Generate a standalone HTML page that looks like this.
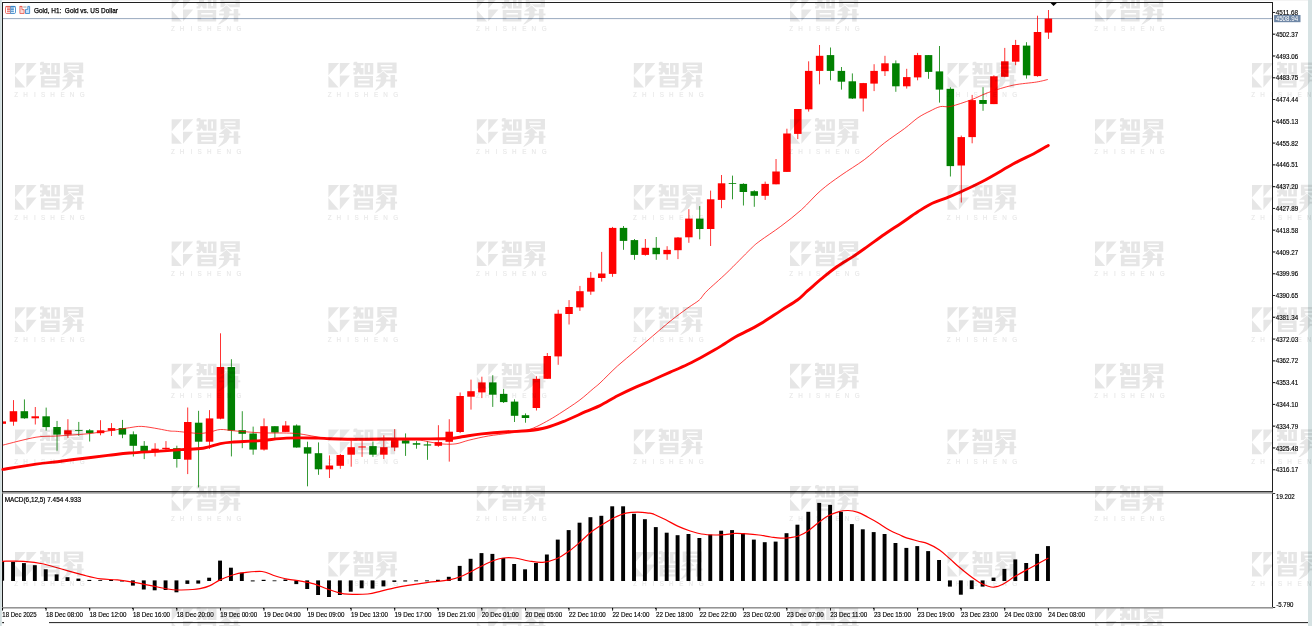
<!DOCTYPE html>
<html><head><meta charset="utf-8"><title>Gold, H1</title>
<style>html,body{margin:0;padding:0;background:#fff;}body{width:1312px;height:626px;overflow:hidden;}svg{display:block;position:absolute;left:0;top:0;will-change:transform;opacity:0.999;}text{font-family:"Liberation Sans",sans-serif;}</style>
</head><body>
<svg width="1312" height="626" viewBox="0 0 1312 626">
<rect x="0" y="0" width="1312" height="626" fill="#ffffff"/>
<rect x="0" y="0" width="1308" height="0.8" fill="#f0f0f0"/>
<rect x="0" y="0" width="1.8" height="626" fill="#d3dfe0"/>
<rect x="1308" y="0" width="4" height="626" fill="#d6e2e3"/>
<g stroke="#000" stroke-width="1" fill="none" shape-rendering="crispEdges">
</g>
<rect x="2.00" y="2.00" width="1271.00" height="1.00" fill="#202020" />
<rect x="2.00" y="2.00" width="1.00" height="608.00" fill="#202020" />
<rect x="1272.00" y="2.00" width="1.00" height="606.00" fill="#202020" />
<rect x="2.00" y="491.10" width="1271.00" height="1.10" fill="#202020" />
<rect x="2.00" y="492.20" width="1271.00" height="1.40" fill="#8f8f8f" />
<rect x="2.00" y="607.05" width="1271.00" height="1.50" fill="#8f8f8f" />
<rect x="49.00" y="622.10" width="1259.00" height="1.00" fill="#202020" />
<rect x="2.20" y="622.00" width="1.80" height="1.20" fill="#202020" />
<rect x="3.00" y="18.10" width="1269.00" height="1.00" fill="#9aaabf" />
<g id="candles">
<rect x="3.00" y="421.40" width="3.00" height="2.40" fill="#ff0000" />
<rect x="13.05" y="400.10" width="0.80" height="25.60" fill="#ff0000" />
<rect x="9.70" y="411.20" width="7.50" height="10.50" fill="#ff0000" />
<rect x="23.94" y="399.40" width="0.80" height="19.40" fill="#008000" />
<rect x="20.59" y="411.20" width="7.50" height="7.10" fill="#008000" />
<rect x="34.84" y="407.00" width="0.80" height="17.50" fill="#ff0000" />
<rect x="31.49" y="416.30" width="7.50" height="2.00" fill="#ff0000" />
<rect x="45.73" y="407.60" width="0.80" height="23.00" fill="#008000" />
<rect x="42.38" y="416.30" width="7.50" height="10.80" fill="#008000" />
<rect x="56.63" y="420.90" width="0.80" height="29.80" fill="#008000" />
<rect x="53.28" y="427.00" width="7.50" height="7.60" fill="#008000" />
<rect x="67.52" y="419.20" width="0.80" height="18.60" fill="#ff0000" />
<rect x="64.17" y="430.30" width="7.50" height="4.30" fill="#ff0000" />
<rect x="78.41" y="421.90" width="0.80" height="13.90" fill="#008000" />
<rect x="75.06" y="430.20" width="7.50" height="0.80" fill="#008000" />
<rect x="89.31" y="429.10" width="0.80" height="12.40" fill="#008000" />
<rect x="85.96" y="430.30" width="7.50" height="2.90" fill="#008000" />
<rect x="100.20" y="420.20" width="0.80" height="15.10" fill="#ff0000" />
<rect x="96.85" y="430.30" width="7.50" height="2.90" fill="#ff0000" />
<rect x="111.10" y="423.10" width="0.80" height="12.90" fill="#ff0000" />
<rect x="107.75" y="428.10" width="7.50" height="2.60" fill="#ff0000" />
<rect x="121.99" y="419.90" width="0.80" height="18.30" fill="#008000" />
<rect x="118.64" y="428.10" width="7.50" height="6.50" fill="#008000" />
<rect x="132.88" y="431.40" width="0.80" height="25.10" fill="#008000" />
<rect x="129.53" y="434.30" width="7.50" height="11.50" fill="#008000" />
<rect x="143.78" y="441.10" width="0.80" height="18.00" fill="#008000" />
<rect x="140.43" y="445.80" width="7.50" height="5.80" fill="#008000" />
<rect x="154.67" y="443.20" width="0.80" height="13.30" fill="#ff0000" />
<rect x="151.32" y="448.70" width="7.50" height="2.90" fill="#ff0000" />
<rect x="165.57" y="441.10" width="0.80" height="8.90" fill="#ff0000" />
<rect x="162.22" y="447.80" width="7.50" height="1.30" fill="#ff0000" />
<rect x="176.46" y="445.70" width="0.80" height="21.90" fill="#008000" />
<rect x="173.11" y="448.20" width="7.50" height="10.80" fill="#008000" />
<rect x="187.35" y="407.50" width="0.80" height="66.60" fill="#ff0000" />
<rect x="184.00" y="422.00" width="7.50" height="37.70" fill="#ff0000" />
<rect x="198.25" y="410.80" width="0.80" height="76.60" fill="#008000" />
<rect x="194.90" y="422.70" width="7.50" height="19.00" fill="#008000" />
<rect x="209.14" y="410.10" width="0.80" height="38.80" fill="#ff0000" />
<rect x="205.79" y="418.40" width="7.50" height="23.30" fill="#ff0000" />
<rect x="220.04" y="333.30" width="0.80" height="86.00" fill="#ff0000" />
<rect x="216.69" y="367.00" width="7.50" height="51.70" fill="#ff0000" />
<rect x="230.93" y="359.20" width="0.80" height="97.20" fill="#008000" />
<rect x="227.58" y="367.00" width="7.50" height="63.60" fill="#008000" />
<rect x="241.82" y="411.20" width="0.80" height="37.00" fill="#008000" />
<rect x="238.47" y="430.20" width="7.50" height="3.60" fill="#008000" />
<rect x="252.72" y="426.60" width="0.80" height="28.10" fill="#008000" />
<rect x="249.37" y="433.50" width="7.50" height="16.10" fill="#008000" />
<rect x="263.61" y="418.40" width="0.80" height="32.20" fill="#ff0000" />
<rect x="260.26" y="426.20" width="7.50" height="23.40" fill="#ff0000" />
<rect x="274.51" y="426.20" width="0.80" height="11.90" fill="#008000" />
<rect x="271.16" y="426.20" width="7.50" height="6.30" fill="#008000" />
<rect x="285.40" y="421.10" width="0.80" height="10.80" fill="#ff0000" />
<rect x="282.05" y="425.50" width="7.50" height="6.40" fill="#ff0000" />
<rect x="296.29" y="424.40" width="0.80" height="23.30" fill="#008000" />
<rect x="292.94" y="425.50" width="7.50" height="22.00" fill="#008000" />
<rect x="307.19" y="441.70" width="0.80" height="44.60" fill="#008000" />
<rect x="303.84" y="447.20" width="7.50" height="6.40" fill="#008000" />
<rect x="318.08" y="442.40" width="0.80" height="32.40" fill="#008000" />
<rect x="314.73" y="453.20" width="7.50" height="16.10" fill="#008000" />
<rect x="328.98" y="455.40" width="0.80" height="22.60" fill="#ff0000" />
<rect x="325.63" y="465.50" width="7.50" height="3.90" fill="#ff0000" />
<rect x="339.87" y="454.00" width="0.80" height="14.80" fill="#ff0000" />
<rect x="336.52" y="455.00" width="7.50" height="10.80" fill="#ff0000" />
<rect x="350.76" y="440.30" width="0.80" height="26.40" fill="#ff0000" />
<rect x="347.41" y="447.20" width="7.50" height="7.50" fill="#ff0000" />
<rect x="361.66" y="441.10" width="0.80" height="15.80" fill="#ff0000" />
<rect x="358.31" y="446.40" width="7.50" height="1.10" fill="#ff0000" />
<rect x="372.55" y="441.50" width="0.80" height="15.40" fill="#008000" />
<rect x="369.20" y="446.10" width="7.50" height="8.60" fill="#008000" />
<rect x="383.45" y="435.30" width="0.80" height="23.70" fill="#ff0000" />
<rect x="380.10" y="447.20" width="7.50" height="7.50" fill="#ff0000" />
<rect x="394.34" y="429.10" width="0.80" height="22.00" fill="#ff0000" />
<rect x="390.99" y="439.60" width="7.50" height="7.90" fill="#ff0000" />
<rect x="405.23" y="433.40" width="0.80" height="22.50" fill="#008000" />
<rect x="401.88" y="440.30" width="7.50" height="3.20" fill="#008000" />
<rect x="416.13" y="441.10" width="0.80" height="7.60" fill="#008000" />
<rect x="412.78" y="443.20" width="7.50" height="1.50" fill="#008000" />
<rect x="427.02" y="441.10" width="0.80" height="18.70" fill="#008000" />
<rect x="423.67" y="444.40" width="7.50" height="1.10" fill="#008000" />
<rect x="437.92" y="425.20" width="0.80" height="21.60" fill="#ff0000" />
<rect x="434.57" y="442.10" width="7.50" height="3.70" fill="#ff0000" />
<rect x="448.81" y="419.20" width="0.80" height="42.40" fill="#ff0000" />
<rect x="445.46" y="431.70" width="7.50" height="10.10" fill="#ff0000" />
<rect x="459.70" y="392.50" width="0.80" height="40.60" fill="#ff0000" />
<rect x="456.35" y="396.00" width="7.50" height="36.00" fill="#ff0000" />
<rect x="470.60" y="379.60" width="0.80" height="30.00" fill="#ff0000" />
<rect x="467.25" y="391.20" width="7.50" height="5.50" fill="#ff0000" />
<rect x="481.49" y="376.70" width="0.80" height="21.40" fill="#ff0000" />
<rect x="478.14" y="382.40" width="7.50" height="10.00" fill="#ff0000" />
<rect x="492.39" y="375.20" width="0.80" height="31.70" fill="#008000" />
<rect x="489.04" y="382.40" width="7.50" height="12.30" fill="#008000" />
<rect x="503.28" y="388.90" width="0.80" height="14.10" fill="#008000" />
<rect x="499.93" y="393.90" width="7.50" height="8.20" fill="#008000" />
<rect x="514.17" y="399.30" width="0.80" height="22.70" fill="#008000" />
<rect x="510.82" y="401.60" width="7.50" height="14.20" fill="#008000" />
<rect x="525.07" y="413.40" width="0.80" height="9.30" fill="#008000" />
<rect x="521.72" y="415.20" width="7.50" height="2.80" fill="#008000" />
<rect x="535.96" y="376.20" width="0.80" height="34.30" fill="#ff0000" />
<rect x="532.61" y="378.80" width="7.50" height="29.20" fill="#ff0000" />
<rect x="546.86" y="353.00" width="0.80" height="25.80" fill="#ff0000" />
<rect x="543.51" y="356.00" width="7.50" height="22.80" fill="#ff0000" />
<rect x="557.75" y="309.80" width="0.80" height="55.00" fill="#ff0000" />
<rect x="554.40" y="313.70" width="7.50" height="42.70" fill="#ff0000" />
<rect x="568.64" y="300.10" width="0.80" height="24.40" fill="#ff0000" />
<rect x="565.29" y="307.00" width="7.50" height="7.00" fill="#ff0000" />
<rect x="579.54" y="285.90" width="0.80" height="25.00" fill="#ff0000" />
<rect x="576.19" y="291.20" width="7.50" height="16.20" fill="#ff0000" />
<rect x="590.43" y="272.10" width="0.80" height="22.70" fill="#ff0000" />
<rect x="587.08" y="277.80" width="7.50" height="13.80" fill="#ff0000" />
<rect x="601.33" y="251.90" width="0.80" height="29.70" fill="#ff0000" />
<rect x="597.98" y="273.50" width="7.50" height="4.50" fill="#ff0000" />
<rect x="612.22" y="226.90" width="0.80" height="49.90" fill="#ff0000" />
<rect x="608.87" y="227.90" width="7.50" height="46.00" fill="#ff0000" />
<rect x="623.11" y="226.00" width="0.80" height="23.80" fill="#008000" />
<rect x="619.76" y="227.90" width="7.50" height="13.00" fill="#008000" />
<rect x="634.01" y="239.00" width="0.80" height="20.80" fill="#008000" />
<rect x="630.66" y="240.10" width="7.50" height="14.80" fill="#008000" />
<rect x="644.90" y="239.00" width="0.80" height="16.70" fill="#ff0000" />
<rect x="641.55" y="247.80" width="7.50" height="7.10" fill="#ff0000" />
<rect x="655.80" y="237.00" width="0.80" height="22.80" fill="#008000" />
<rect x="652.45" y="247.80" width="7.50" height="6.40" fill="#008000" />
<rect x="666.69" y="246.20" width="0.80" height="13.60" fill="#ff0000" />
<rect x="663.34" y="249.90" width="7.50" height="4.30" fill="#ff0000" />
<rect x="677.58" y="237.00" width="0.80" height="22.10" fill="#ff0000" />
<rect x="674.23" y="237.50" width="7.50" height="12.70" fill="#ff0000" />
<rect x="688.48" y="209.20" width="0.80" height="33.60" fill="#ff0000" />
<rect x="685.13" y="218.60" width="7.50" height="18.70" fill="#ff0000" />
<rect x="699.37" y="206.10" width="0.80" height="33.20" fill="#008000" />
<rect x="696.02" y="218.60" width="7.50" height="10.40" fill="#008000" />
<rect x="710.27" y="190.60" width="0.80" height="55.40" fill="#ff0000" />
<rect x="706.92" y="199.30" width="7.50" height="29.70" fill="#ff0000" />
<rect x="721.16" y="175.00" width="0.80" height="33.20" fill="#ff0000" />
<rect x="717.81" y="183.30" width="7.50" height="16.60" fill="#ff0000" />
<rect x="732.05" y="175.60" width="0.80" height="23.70" fill="#008000" />
<rect x="728.70" y="183.20" width="7.50" height="0.80" fill="#008000" />
<rect x="742.95" y="183.30" width="0.80" height="22.20" fill="#008000" />
<rect x="739.60" y="183.90" width="7.50" height="8.10" fill="#008000" />
<rect x="753.84" y="190.20" width="0.80" height="16.60" fill="#008000" />
<rect x="750.49" y="191.20" width="7.50" height="4.60" fill="#008000" />
<rect x="764.74" y="181.60" width="0.80" height="18.30" fill="#ff0000" />
<rect x="761.39" y="183.90" width="7.50" height="11.90" fill="#ff0000" />
<rect x="775.63" y="159.00" width="0.80" height="25.30" fill="#ff0000" />
<rect x="772.28" y="171.50" width="7.50" height="12.80" fill="#ff0000" />
<rect x="786.52" y="128.70" width="0.80" height="43.20" fill="#ff0000" />
<rect x="783.17" y="133.50" width="7.50" height="38.40" fill="#ff0000" />
<rect x="797.42" y="109.00" width="0.80" height="30.10" fill="#ff0000" />
<rect x="794.07" y="109.00" width="7.50" height="24.90" fill="#ff0000" />
<rect x="808.31" y="61.30" width="0.80" height="50.30" fill="#ff0000" />
<rect x="804.96" y="70.90" width="7.50" height="38.40" fill="#ff0000" />
<rect x="819.21" y="45.00" width="0.80" height="39.30" fill="#ff0000" />
<rect x="815.86" y="55.80" width="7.50" height="15.10" fill="#ff0000" />
<rect x="830.10" y="47.50" width="0.80" height="32.80" fill="#008000" />
<rect x="826.75" y="55.10" width="7.50" height="15.80" fill="#008000" />
<rect x="840.99" y="67.00" width="0.80" height="22.60" fill="#008000" />
<rect x="837.64" y="70.90" width="7.50" height="10.80" fill="#008000" />
<rect x="851.89" y="73.40" width="0.80" height="25.60" fill="#008000" />
<rect x="848.54" y="81.30" width="7.50" height="17.20" fill="#008000" />
<rect x="862.78" y="82.90" width="0.80" height="28.60" fill="#ff0000" />
<rect x="859.43" y="83.10" width="7.50" height="15.40" fill="#ff0000" />
<rect x="873.68" y="64.20" width="0.80" height="26.90" fill="#ff0000" />
<rect x="870.33" y="70.90" width="7.50" height="12.70" fill="#ff0000" />
<rect x="884.57" y="55.80" width="0.80" height="20.20" fill="#ff0000" />
<rect x="881.22" y="63.30" width="7.50" height="7.90" fill="#ff0000" />
<rect x="895.46" y="60.40" width="0.80" height="31.40" fill="#008000" />
<rect x="892.11" y="63.30" width="7.50" height="23.00" fill="#008000" />
<rect x="906.36" y="68.80" width="0.80" height="19.80" fill="#ff0000" />
<rect x="903.01" y="77.10" width="7.50" height="9.20" fill="#ff0000" />
<rect x="917.25" y="52.90" width="0.80" height="27.40" fill="#ff0000" />
<rect x="913.90" y="55.10" width="7.50" height="22.30" fill="#ff0000" />
<rect x="928.15" y="55.10" width="0.80" height="23.70" fill="#008000" />
<rect x="924.80" y="55.10" width="7.50" height="16.80" fill="#008000" />
<rect x="939.04" y="46.00" width="0.80" height="56.60" fill="#008000" />
<rect x="935.69" y="71.40" width="7.50" height="18.20" fill="#008000" />
<rect x="949.93" y="87.30" width="0.80" height="89.20" fill="#008000" />
<rect x="946.58" y="88.80" width="7.50" height="77.30" fill="#008000" />
<rect x="960.83" y="135.60" width="0.80" height="66.90" fill="#ff0000" />
<rect x="957.48" y="137.10" width="7.50" height="28.40" fill="#ff0000" />
<rect x="971.72" y="94.90" width="0.80" height="48.40" fill="#ff0000" />
<rect x="968.37" y="100.10" width="7.50" height="37.00" fill="#ff0000" />
<rect x="982.62" y="87.20" width="0.80" height="23.60" fill="#008000" />
<rect x="979.27" y="100.00" width="7.50" height="3.90" fill="#008000" />
<rect x="993.51" y="75.30" width="0.80" height="28.80" fill="#ff0000" />
<rect x="990.16" y="76.30" width="7.50" height="27.80" fill="#ff0000" />
<rect x="1004.40" y="47.90" width="0.80" height="29.30" fill="#ff0000" />
<rect x="1001.05" y="61.30" width="7.50" height="15.50" fill="#ff0000" />
<rect x="1015.30" y="39.90" width="0.80" height="25.30" fill="#ff0000" />
<rect x="1011.95" y="45.00" width="7.50" height="16.70" fill="#ff0000" />
<rect x="1026.19" y="42.20" width="0.80" height="36.40" fill="#008000" />
<rect x="1022.84" y="45.60" width="7.50" height="29.70" fill="#008000" />
<rect x="1037.09" y="15.70" width="0.80" height="61.00" fill="#ff0000" />
<rect x="1033.74" y="32.00" width="7.50" height="44.10" fill="#ff0000" />
<rect x="1047.98" y="10.00" width="0.80" height="28.90" fill="#ff0000" />
<rect x="1044.63" y="18.60" width="7.50" height="14.00" fill="#ff0000" />
</g>
<path d="M2.9,445.1 C8.4,443.8 26.9,438.7 36.0,437.2 C45.1,435.7 49.1,436.6 57.5,436.0 C65.9,435.4 77.9,434.7 86.3,433.9 C94.7,433.1 100.7,432.0 107.9,431.0 C115.1,430.0 123.9,428.5 129.5,427.7 C135.1,426.9 136.9,426.2 141.7,426.4 C146.5,426.6 153.5,428.0 158.2,428.8 C162.9,429.6 166.8,430.6 170.0,431.0 C173.2,431.4 172.5,431.0 177.3,431.4 C182.1,431.8 193.4,433.3 198.8,433.4 C204.2,433.5 206.4,432.6 210.0,432.0 C213.6,431.4 216.3,429.7 220.4,429.5 C224.5,429.3 228.1,430.3 234.8,430.9 C241.5,431.4 251.6,432.4 260.7,432.8 C269.8,433.2 282.2,432.8 289.4,433.1 C296.6,433.4 299.0,433.8 303.8,434.5 C308.6,435.2 313.8,436.5 318.2,437.1 C322.6,437.8 322.5,438.0 330.0,438.4 C337.5,438.8 350.3,439.3 363.0,439.6 C375.7,439.9 396.4,439.9 406.0,440.0 C415.6,440.1 416.7,439.9 420.7,440.3 C424.7,440.7 426.3,441.5 430.0,442.1 C433.7,442.7 438.7,443.7 443.0,444.0 C447.3,444.3 451.7,444.4 456.0,443.8 C460.3,443.2 463.5,441.5 468.9,440.2 C474.3,438.9 481.8,437.1 488.3,436.0 C494.8,434.9 501.9,434.2 507.7,433.4 C513.5,432.6 519.0,432.0 523.3,431.1 C527.6,430.2 529.8,429.5 533.7,427.9 C537.6,426.3 542.3,423.8 546.6,421.4 C550.9,419.0 554.2,417.1 559.6,413.6 C565.0,410.1 573.3,404.8 579.0,400.6 C584.7,396.4 590.3,391.1 593.8,388.2 C597.3,385.3 596.0,386.7 600.0,383.0 C604.0,379.3 611.7,371.2 617.6,365.9 C623.5,360.6 629.4,356.0 635.2,351.0 C641.1,346.0 646.9,341.0 652.7,336.0 C658.6,331.0 664.4,325.8 670.3,321.1 C676.2,316.4 683.1,311.4 687.9,307.9 C692.7,304.4 696.1,302.8 699.3,300.0 C702.4,297.2 702.2,295.7 706.8,291.1 C711.4,286.6 719.6,279.7 726.9,272.7 C734.2,265.7 744.9,254.5 750.4,249.2 C755.9,243.9 754.9,244.7 760.0,240.9 C765.1,237.1 773.9,231.5 780.8,226.3 C787.7,221.1 794.8,215.7 801.5,209.7 C808.2,203.7 814.2,196.2 820.8,190.5 C827.4,184.8 833.6,180.5 840.9,175.4 C848.1,170.3 857.0,165.1 864.3,159.7 C871.6,154.3 877.8,148.1 884.5,142.9 C891.2,137.7 899.0,132.7 904.6,128.5 C910.2,124.3 913.8,120.6 918.0,117.7 C922.2,114.8 926.3,112.9 930.0,111.1 C933.7,109.2 936.9,107.4 940.4,106.6 C943.9,105.8 945.6,107.6 950.8,106.4 C956.0,105.2 965.2,102.0 971.5,99.7 C977.8,97.4 981.8,94.8 988.7,92.4 C995.6,90.0 1005.0,86.9 1013.0,85.2 C1021.0,83.5 1030.9,83.0 1036.7,82.0 C1042.5,81.0 1046.0,79.9 1047.8,79.5" fill="none" stroke="#ff0000" stroke-width="0.75" stroke-linejoin="round"/>
<path d="M2.9,469.4 C8.4,468.5 26.9,465.4 36.0,464.1 C45.1,462.8 51.5,462.4 57.5,461.7 C63.5,461.0 63.5,460.9 71.9,459.8 C80.3,458.8 98.3,456.5 107.9,455.4 C117.5,454.3 120.8,453.7 129.5,453.0 C138.2,452.3 151.3,451.7 160.0,451.1 C168.7,450.5 174.4,450.1 181.6,449.6 C188.8,449.1 196.6,449.2 203.1,448.2 C209.6,447.2 215.6,444.6 220.4,443.6 C225.2,442.6 225.2,442.6 231.9,442.1 C238.6,441.6 251.6,441.3 260.7,440.6 C269.8,439.9 277.0,438.5 286.6,438.1 C296.2,437.7 311.0,438.0 318.2,438.1 C325.4,438.2 322.5,438.5 330.0,438.7 C337.5,438.9 350.3,439.2 363.0,439.2 C375.7,439.2 394.8,438.9 406.0,438.9 C417.2,438.8 422.1,439.0 430.0,438.9 C437.9,438.8 447.7,438.6 453.3,438.2 C458.9,437.8 459.1,437.2 463.8,436.5 C468.6,435.8 474.5,434.7 481.8,433.9 C489.1,433.1 500.1,432.2 507.7,431.7 C515.3,431.2 520.7,431.5 527.2,430.8 C533.7,430.1 540.1,429.2 546.6,427.5 C553.1,425.8 559.5,423.1 566.0,420.5 C572.5,417.9 579.8,414.2 585.5,411.7 C591.2,409.2 594.6,408.2 600.0,405.6 C605.4,403.0 611.7,398.8 617.6,395.8 C623.5,392.8 629.4,390.0 635.2,387.4 C641.1,384.8 646.9,382.6 652.7,380.0 C658.6,377.4 664.4,374.7 670.3,372.1 C676.2,369.5 682.9,366.6 687.9,364.2 C692.9,361.8 695.8,360.4 700.2,358.0 C704.6,355.6 710.5,352.3 714.3,350.1 C718.1,347.9 719.5,347.0 723.0,344.8 C726.5,342.6 730.9,339.4 735.3,336.9 C739.7,334.4 744.7,332.4 749.4,329.9 C754.1,327.4 758.3,325.2 763.5,322.0 C768.7,318.8 775.1,314.3 780.8,310.6 C786.4,306.9 792.9,303.3 797.4,300.0 C801.9,296.7 803.6,294.3 807.7,290.7 C811.9,287.1 817.4,282.2 822.3,278.2 C827.1,274.2 831.6,270.4 836.8,266.8 C842.0,263.2 848.2,259.8 853.4,256.4 C858.6,252.9 862.8,249.8 868.0,246.1 C873.2,242.4 879.1,238.0 884.6,234.2 C890.1,230.4 895.7,226.9 901.2,223.2 C906.7,219.5 912.6,215.1 917.8,211.8 C923.0,208.5 926.8,205.8 932.3,203.2 C937.8,200.6 942.5,199.8 950.8,196.2 C959.1,192.6 971.5,187.0 981.9,181.7 C992.3,176.3 1004.4,168.8 1013.0,164.1 C1021.6,159.4 1027.9,156.8 1033.8,153.7 C1039.7,150.6 1045.9,146.8 1048.3,145.4" fill="none" stroke="#ff0000" stroke-width="2.9" stroke-linejoin="round" stroke-linecap="round"/>
<polygon points="1050.3,2.8 1057,2.8 1053.6,5.9" fill="#000"/>
<g id="macd" fill="#000">
<rect x="2.50" y="561.00" width="1.60" height="19.70" fill="#000" />
<rect x="11.10" y="561.80" width="3.90" height="19.20" fill="#000" />
<rect x="21.99" y="563.10" width="3.90" height="17.90" fill="#000" />
<rect x="32.89" y="565.20" width="3.90" height="15.80" fill="#000" />
<rect x="43.78" y="569.30" width="3.90" height="11.70" fill="#000" />
<rect x="54.68" y="574.40" width="3.90" height="6.60" fill="#000" />
<rect x="65.57" y="577.20" width="3.90" height="3.80" fill="#000" />
<rect x="76.46" y="578.60" width="3.90" height="2.40" fill="#000" />
<rect x="87.36" y="579.90" width="3.90" height="1.10" fill="#000" />
<rect x="98.25" y="580.20" width="3.90" height="0.80" fill="#000" />
<rect x="109.15" y="579.90" width="3.90" height="1.10" fill="#000" />
<rect x="120.04" y="580.40" width="3.90" height="1.10" fill="#000" />
<rect x="130.93" y="580.40" width="3.90" height="5.20" fill="#000" />
<rect x="141.83" y="580.40" width="3.90" height="9.10" fill="#000" />
<rect x="152.72" y="580.40" width="3.90" height="9.90" fill="#000" />
<rect x="163.62" y="580.40" width="3.90" height="9.60" fill="#000" />
<rect x="174.51" y="580.40" width="3.90" height="11.90" fill="#000" />
<rect x="185.40" y="580.40" width="3.90" height="3.50" fill="#000" />
<rect x="196.30" y="580.40" width="3.90" height="3.20" fill="#000" />
<rect x="207.19" y="577.70" width="3.90" height="3.30" fill="#000" />
<rect x="218.09" y="560.60" width="3.90" height="20.40" fill="#000" />
<rect x="228.98" y="567.70" width="3.90" height="13.30" fill="#000" />
<rect x="239.87" y="572.70" width="3.90" height="8.30" fill="#000" />
<rect x="250.77" y="580.40" width="3.90" height="1.00" fill="#000" />
<rect x="261.66" y="579.80" width="3.90" height="1.20" fill="#000" />
<rect x="272.56" y="580.40" width="3.90" height="0.80" fill="#000" />
<rect x="283.45" y="579.50" width="3.90" height="1.50" fill="#000" />
<rect x="294.34" y="580.40" width="3.90" height="3.70" fill="#000" />
<rect x="305.24" y="580.40" width="3.90" height="8.60" fill="#000" />
<rect x="316.13" y="580.40" width="3.90" height="14.60" fill="#000" />
<rect x="327.03" y="580.40" width="3.90" height="16.60" fill="#000" />
<rect x="337.92" y="580.40" width="3.90" height="14.60" fill="#000" />
<rect x="348.81" y="580.40" width="3.90" height="11.30" fill="#000" />
<rect x="359.71" y="580.40" width="3.90" height="7.90" fill="#000" />
<rect x="370.60" y="580.40" width="3.90" height="8.20" fill="#000" />
<rect x="381.50" y="580.40" width="3.90" height="6.00" fill="#000" />
<rect x="392.39" y="580.40" width="3.90" height="1.50" fill="#000" />
<rect x="403.28" y="580.40" width="3.90" height="1.10" fill="#000" />
<rect x="414.18" y="580.40" width="3.90" height="0.90" fill="#000" />
<rect x="425.07" y="580.40" width="3.90" height="0.90" fill="#000" />
<rect x="435.97" y="579.80" width="3.90" height="1.20" fill="#000" />
<rect x="446.86" y="576.80" width="3.90" height="4.20" fill="#000" />
<rect x="457.75" y="565.90" width="3.90" height="15.10" fill="#000" />
<rect x="468.65" y="558.80" width="3.90" height="22.20" fill="#000" />
<rect x="479.54" y="553.10" width="3.90" height="27.90" fill="#000" />
<rect x="490.44" y="553.90" width="3.90" height="27.10" fill="#000" />
<rect x="501.33" y="558.00" width="3.90" height="23.00" fill="#000" />
<rect x="512.22" y="564.00" width="3.90" height="17.00" fill="#000" />
<rect x="523.12" y="569.30" width="3.90" height="11.70" fill="#000" />
<rect x="534.01" y="563.00" width="3.90" height="18.00" fill="#000" />
<rect x="544.91" y="554.50" width="3.90" height="26.50" fill="#000" />
<rect x="555.80" y="539.60" width="3.90" height="41.40" fill="#000" />
<rect x="566.69" y="530.10" width="3.90" height="50.90" fill="#000" />
<rect x="577.59" y="522.70" width="3.90" height="58.30" fill="#000" />
<rect x="588.48" y="517.20" width="3.90" height="63.80" fill="#000" />
<rect x="599.38" y="515.80" width="3.90" height="65.20" fill="#000" />
<rect x="610.27" y="506.30" width="3.90" height="74.70" fill="#000" />
<rect x="621.16" y="506.30" width="3.90" height="74.70" fill="#000" />
<rect x="632.06" y="513.80" width="3.90" height="67.20" fill="#000" />
<rect x="642.95" y="519.20" width="3.90" height="61.80" fill="#000" />
<rect x="653.85" y="527.10" width="3.90" height="53.90" fill="#000" />
<rect x="664.74" y="532.70" width="3.90" height="48.30" fill="#000" />
<rect x="675.63" y="535.20" width="3.90" height="45.80" fill="#000" />
<rect x="686.53" y="534.00" width="3.90" height="47.00" fill="#000" />
<rect x="697.42" y="538.00" width="3.90" height="43.00" fill="#000" />
<rect x="708.32" y="534.60" width="3.90" height="46.40" fill="#000" />
<rect x="719.21" y="530.70" width="3.90" height="50.30" fill="#000" />
<rect x="730.10" y="530.10" width="3.90" height="50.90" fill="#000" />
<rect x="741.00" y="533.20" width="3.90" height="47.80" fill="#000" />
<rect x="751.89" y="539.60" width="3.90" height="41.40" fill="#000" />
<rect x="762.79" y="542.20" width="3.90" height="38.80" fill="#000" />
<rect x="773.68" y="541.60" width="3.90" height="39.40" fill="#000" />
<rect x="784.57" y="533.20" width="3.90" height="47.80" fill="#000" />
<rect x="795.47" y="524.70" width="3.90" height="56.30" fill="#000" />
<rect x="806.36" y="511.80" width="3.90" height="69.20" fill="#000" />
<rect x="817.26" y="502.90" width="3.90" height="78.10" fill="#000" />
<rect x="828.15" y="504.90" width="3.90" height="76.10" fill="#000" />
<rect x="839.04" y="511.80" width="3.90" height="69.20" fill="#000" />
<rect x="849.94" y="524.10" width="3.90" height="56.90" fill="#000" />
<rect x="860.83" y="529.30" width="3.90" height="51.70" fill="#000" />
<rect x="871.73" y="532.10" width="3.90" height="48.90" fill="#000" />
<rect x="882.62" y="534.00" width="3.90" height="47.00" fill="#000" />
<rect x="893.51" y="543.00" width="3.90" height="38.00" fill="#000" />
<rect x="904.41" y="547.90" width="3.90" height="33.10" fill="#000" />
<rect x="915.30" y="546.10" width="3.90" height="34.90" fill="#000" />
<rect x="926.20" y="551.10" width="3.90" height="29.90" fill="#000" />
<rect x="937.09" y="560.00" width="3.90" height="21.00" fill="#000" />
<rect x="947.98" y="580.40" width="3.90" height="6.20" fill="#000" />
<rect x="958.88" y="580.40" width="3.90" height="14.30" fill="#000" />
<rect x="969.77" y="580.40" width="3.90" height="8.70" fill="#000" />
<rect x="980.67" y="580.40" width="3.90" height="6.20" fill="#000" />
<rect x="991.56" y="577.60" width="3.90" height="3.40" fill="#000" />
<rect x="1002.45" y="568.90" width="3.90" height="12.10" fill="#000" />
<rect x="1013.35" y="559.40" width="3.90" height="21.60" fill="#000" />
<rect x="1024.24" y="563.00" width="3.90" height="18.00" fill="#000" />
<rect x="1035.14" y="553.90" width="3.90" height="27.10" fill="#000" />
<rect x="1046.03" y="546.10" width="3.90" height="34.90" fill="#000" />
</g>
<path d="M2.3,561.3 C5.8,561.3 16.6,560.8 23.5,561.3 C30.4,561.8 36.3,562.4 43.6,564.0 C50.9,565.6 60.4,568.8 67.1,570.7 C73.8,572.6 78.2,573.8 83.8,575.2 C89.4,576.6 95.0,578.1 100.6,578.9 C106.2,579.7 111.8,579.3 117.4,579.9 C123.0,580.5 128.5,581.4 134.1,582.4 C139.7,583.4 145.3,584.5 150.9,585.6 C156.5,586.7 163.2,588.3 167.7,589.0 C172.2,589.7 173.5,589.9 177.7,590.0 C181.9,590.1 189.1,589.7 192.8,589.5 C196.5,589.3 197.1,589.2 200.0,588.6 C202.9,588.0 206.7,587.1 210.0,585.6 C213.3,584.1 216.2,581.7 220.1,579.9 C224.0,578.1 229.6,575.9 233.5,574.7 C237.4,573.5 238.8,573.2 243.6,572.7 C248.3,572.2 257.0,571.0 262.0,571.5 C267.0,572.0 269.6,574.2 273.8,575.5 C278.0,576.8 282.7,578.2 287.2,579.1 C291.7,580.0 296.1,580.3 300.6,581.1 C305.1,581.9 309.5,582.6 314.0,583.9 C318.5,585.2 323.2,587.5 327.4,589.0 C331.6,590.5 335.8,591.9 339.2,592.8 C342.6,593.7 342.9,594.0 347.6,594.2 C352.4,594.4 362.1,594.5 367.7,594.0 C373.3,593.5 376.6,592.1 381.1,591.1 C385.6,590.1 390.0,588.8 394.5,587.8 C399.0,586.8 403.6,586.0 407.9,585.3 C412.1,584.6 416.4,584.1 420.0,583.6 C423.6,583.1 424.8,582.8 429.7,582.2 C434.6,581.6 444.2,580.8 449.5,579.8 C454.8,578.8 456.4,578.4 461.4,576.3 C466.4,574.2 474.0,569.9 479.3,567.3 C484.6,564.7 489.1,562.3 493.1,560.8 C497.1,559.2 499.5,558.5 503.1,558.0 C506.7,557.5 510.6,557.5 514.9,558.0 C519.2,558.5 524.2,560.3 528.8,561.0 C533.4,561.7 538.1,562.8 542.7,562.4 C547.3,562.0 552.3,560.6 556.6,558.8 C560.9,557.0 564.9,554.0 568.5,551.5 C572.1,549.0 574.8,546.7 578.4,543.6 C582.0,540.5 586.3,535.9 590.3,532.7 C594.2,529.6 598.1,527.2 602.1,524.7 C606.1,522.2 610.0,519.7 614.0,517.8 C618.0,515.9 621.9,514.1 625.9,513.2 C629.9,512.3 633.8,512.2 637.8,512.2 C641.8,512.2 647.0,512.9 649.7,513.2 C652.4,513.5 651.2,513.1 653.9,514.2 C656.6,515.3 661.8,517.8 665.8,519.8 C669.8,521.8 673.8,524.3 677.7,526.1 C681.7,527.9 685.5,529.4 689.5,530.7 C693.5,532.0 697.1,533.3 701.4,534.0 C705.7,534.7 711.3,534.9 715.3,535.0 C719.3,535.1 721.9,534.9 725.2,534.6 C728.5,534.3 731.5,533.5 735.1,533.4 C738.7,533.3 743.0,533.5 747.0,533.8 C751.0,534.1 754.9,534.5 758.9,535.0 C762.9,535.5 767.2,536.5 770.8,537.0 C774.4,537.5 777.4,538.1 780.7,538.2 C784.0,538.3 787.6,538.0 790.6,537.6 C793.6,537.2 795.5,537.1 798.5,536.0 C801.5,534.9 805.1,532.9 808.4,530.7 C811.7,528.5 815.1,525.2 818.4,522.7 C821.7,520.2 825.0,517.6 828.3,515.8 C831.6,514.0 834.9,512.7 838.2,511.8 C841.5,510.9 844.8,510.4 848.1,510.5 C851.4,510.6 854.7,511.3 858.0,512.4 C861.3,513.5 864.6,515.5 867.9,517.2 C871.2,518.9 874.2,520.5 877.8,522.7 C881.4,524.9 886.0,528.2 889.7,530.3 C893.4,532.3 897.3,533.8 900.0,535.0 C902.7,536.2 902.8,536.6 905.8,537.6 C908.8,538.6 914.1,540.0 917.7,541.0 C921.3,542.0 924.0,542.1 927.6,543.6 C931.2,545.1 935.9,547.4 939.5,549.9 C943.1,552.4 946.1,555.5 949.4,558.4 C952.7,561.3 956.0,564.5 959.3,567.3 C962.6,570.1 965.9,572.8 969.2,575.3 C972.5,577.8 976.1,580.5 979.1,582.2 C982.1,584.0 984.5,585.0 987.0,585.8 C989.5,586.6 991.4,587.5 994.0,587.2 C996.6,586.9 999.4,586.0 1002.9,584.2 C1006.4,582.4 1010.8,579.0 1014.8,576.6 C1018.8,574.2 1022.6,572.1 1026.6,569.9 C1030.5,567.7 1034.9,565.4 1038.5,563.4 C1042.1,561.4 1046.8,558.9 1048.4,558.0" fill="none" stroke="#ff0000" stroke-width="1.2" stroke-linejoin="round"/>
<g font-size="6.7px" fill="#000" stroke="#000" stroke-width="0.15">
<rect x="1273.00" y="12.05" width="2.20" height="0.80" fill="#000" />
<text x="1275.7" y="15.05" textLength="22.4" lengthAdjust="spacingAndGlyphs">4511.68</text>
<rect x="1273.00" y="33.82" width="2.20" height="0.80" fill="#000" />
<text x="1275.7" y="36.82" textLength="22.4" lengthAdjust="spacingAndGlyphs">4502.37</text>
<rect x="1273.00" y="55.60" width="2.20" height="0.80" fill="#000" />
<text x="1275.7" y="58.60" textLength="22.4" lengthAdjust="spacingAndGlyphs">4493.06</text>
<rect x="1273.00" y="77.37" width="2.20" height="0.80" fill="#000" />
<text x="1275.7" y="80.37" textLength="22.4" lengthAdjust="spacingAndGlyphs">4483.75</text>
<rect x="1273.00" y="99.15" width="2.20" height="0.80" fill="#000" />
<text x="1275.7" y="102.15" textLength="22.4" lengthAdjust="spacingAndGlyphs">4474.44</text>
<rect x="1273.00" y="120.92" width="2.20" height="0.80" fill="#000" />
<text x="1275.7" y="123.92" textLength="22.4" lengthAdjust="spacingAndGlyphs">4465.13</text>
<rect x="1273.00" y="142.70" width="2.20" height="0.80" fill="#000" />
<text x="1275.7" y="145.70" textLength="22.4" lengthAdjust="spacingAndGlyphs">4455.82</text>
<rect x="1273.00" y="164.47" width="2.20" height="0.80" fill="#000" />
<text x="1275.7" y="167.47" textLength="22.4" lengthAdjust="spacingAndGlyphs">4446.51</text>
<rect x="1273.00" y="186.25" width="2.20" height="0.80" fill="#000" />
<text x="1275.7" y="189.25" textLength="22.4" lengthAdjust="spacingAndGlyphs">4437.20</text>
<rect x="1273.00" y="208.02" width="2.20" height="0.80" fill="#000" />
<text x="1275.7" y="211.02" textLength="22.4" lengthAdjust="spacingAndGlyphs">4427.89</text>
<rect x="1273.00" y="229.80" width="2.20" height="0.80" fill="#000" />
<text x="1275.7" y="232.80" textLength="22.4" lengthAdjust="spacingAndGlyphs">4418.58</text>
<rect x="1273.00" y="251.57" width="2.20" height="0.80" fill="#000" />
<text x="1275.7" y="254.57" textLength="22.4" lengthAdjust="spacingAndGlyphs">4409.27</text>
<rect x="1273.00" y="273.35" width="2.20" height="0.80" fill="#000" />
<text x="1275.7" y="276.35" textLength="22.4" lengthAdjust="spacingAndGlyphs">4399.96</text>
<rect x="1273.00" y="295.12" width="2.20" height="0.80" fill="#000" />
<text x="1275.7" y="298.12" textLength="22.4" lengthAdjust="spacingAndGlyphs">4390.65</text>
<rect x="1273.00" y="316.90" width="2.20" height="0.80" fill="#000" />
<text x="1275.7" y="319.90" textLength="22.4" lengthAdjust="spacingAndGlyphs">4381.34</text>
<rect x="1273.00" y="338.68" width="2.20" height="0.80" fill="#000" />
<text x="1275.7" y="341.68" textLength="22.4" lengthAdjust="spacingAndGlyphs">4372.03</text>
<rect x="1273.00" y="360.45" width="2.20" height="0.80" fill="#000" />
<text x="1275.7" y="363.45" textLength="22.4" lengthAdjust="spacingAndGlyphs">4362.72</text>
<rect x="1273.00" y="382.22" width="2.20" height="0.80" fill="#000" />
<text x="1275.7" y="385.22" textLength="22.4" lengthAdjust="spacingAndGlyphs">4353.41</text>
<rect x="1273.00" y="404.00" width="2.20" height="0.80" fill="#000" />
<text x="1275.7" y="407.00" textLength="22.4" lengthAdjust="spacingAndGlyphs">4344.10</text>
<rect x="1273.00" y="425.77" width="2.20" height="0.80" fill="#000" />
<text x="1275.7" y="428.77" textLength="22.4" lengthAdjust="spacingAndGlyphs">4334.79</text>
<rect x="1273.00" y="447.55" width="2.20" height="0.80" fill="#000" />
<text x="1275.7" y="450.55" textLength="22.4" lengthAdjust="spacingAndGlyphs">4325.48</text>
<rect x="1273.00" y="469.32" width="2.20" height="0.80" fill="#000" />
<text x="1275.7" y="472.32" textLength="22.4" lengthAdjust="spacingAndGlyphs">4316.17</text>
</g>
<rect x="1274.10" y="15.00" width="26.40" height="7.20" fill="#6f87a6" />
<text x="1275.7" y="20.9" font-size="6.7px" fill="#ffffff" textLength="22.4" lengthAdjust="spacingAndGlyphs">4508.94</text>
<rect x="1273.00" y="493.00" width="2.20" height="0.80" fill="#000" />
<text x="1276" y="498.8" font-size="6.7px" fill="#000" stroke="#000" stroke-width="0.15" textLength="18.7" lengthAdjust="spacingAndGlyphs">19.202</text>
<rect x="1273.00" y="607.20" width="2.20" height="0.80" fill="#000" />
<text x="1276.3" y="606.6" font-size="6.7px" fill="#000" stroke="#000" stroke-width="0.15" textLength="17.2" lengthAdjust="spacingAndGlyphs">-5.790</text>
<g font-size="6.6px" fill="#000" stroke="#000" stroke-width="0.15">
<rect x="2.16" y="608.00" width="0.80" height="2.60" fill="#000" />
<text x="2.36" y="616.9" textLength="34.2" lengthAdjust="spacingAndGlyphs">18 Dec 2025</text>
<rect x="45.73" y="608.00" width="0.80" height="2.60" fill="#000" />
<text x="45.93" y="616.9" textLength="37" lengthAdjust="spacingAndGlyphs">18 Dec 08:00</text>
<rect x="89.31" y="608.00" width="0.80" height="2.60" fill="#000" />
<text x="89.51" y="616.9" textLength="37" lengthAdjust="spacingAndGlyphs">18 Dec 12:00</text>
<rect x="132.88" y="608.00" width="0.80" height="2.60" fill="#000" />
<text x="133.08" y="616.9" textLength="37" lengthAdjust="spacingAndGlyphs">18 Dec 16:00</text>
<rect x="176.46" y="608.00" width="0.80" height="2.60" fill="#000" />
<text x="176.66" y="616.9" textLength="37" lengthAdjust="spacingAndGlyphs">18 Dec 20:00</text>
<rect x="220.04" y="608.00" width="0.80" height="2.60" fill="#000" />
<text x="220.24" y="616.9" textLength="37" lengthAdjust="spacingAndGlyphs">19 Dec 00:00</text>
<rect x="263.61" y="608.00" width="0.80" height="2.60" fill="#000" />
<text x="263.81" y="616.9" textLength="37" lengthAdjust="spacingAndGlyphs">19 Dec 04:00</text>
<rect x="307.19" y="608.00" width="0.80" height="2.60" fill="#000" />
<text x="307.39" y="616.9" textLength="37" lengthAdjust="spacingAndGlyphs">19 Dec 09:00</text>
<rect x="350.76" y="608.00" width="0.80" height="2.60" fill="#000" />
<text x="350.96" y="616.9" textLength="37" lengthAdjust="spacingAndGlyphs">19 Dec 13:00</text>
<rect x="394.34" y="608.00" width="0.80" height="2.60" fill="#000" />
<text x="394.54" y="616.9" textLength="37" lengthAdjust="spacingAndGlyphs">19 Dec 17:00</text>
<rect x="437.92" y="608.00" width="0.80" height="2.60" fill="#000" />
<text x="438.12" y="616.9" textLength="37" lengthAdjust="spacingAndGlyphs">19 Dec 21:00</text>
<rect x="481.49" y="608.00" width="0.80" height="2.60" fill="#000" />
<text x="481.69" y="616.9" textLength="37" lengthAdjust="spacingAndGlyphs">20 Dec 01:00</text>
<rect x="525.07" y="608.00" width="0.80" height="2.60" fill="#000" />
<text x="525.27" y="616.9" textLength="37" lengthAdjust="spacingAndGlyphs">20 Dec 05:00</text>
<rect x="568.64" y="608.00" width="0.80" height="2.60" fill="#000" />
<text x="568.84" y="616.9" textLength="37" lengthAdjust="spacingAndGlyphs">22 Dec 10:00</text>
<rect x="612.22" y="608.00" width="0.80" height="2.60" fill="#000" />
<text x="612.42" y="616.9" textLength="37" lengthAdjust="spacingAndGlyphs">22 Dec 14:00</text>
<rect x="655.80" y="608.00" width="0.80" height="2.60" fill="#000" />
<text x="656.00" y="616.9" textLength="37" lengthAdjust="spacingAndGlyphs">22 Dec 18:00</text>
<rect x="699.37" y="608.00" width="0.80" height="2.60" fill="#000" />
<text x="699.57" y="616.9" textLength="37" lengthAdjust="spacingAndGlyphs">22 Dec 22:00</text>
<rect x="742.95" y="608.00" width="0.80" height="2.60" fill="#000" />
<text x="743.15" y="616.9" textLength="37" lengthAdjust="spacingAndGlyphs">23 Dec 02:00</text>
<rect x="786.52" y="608.00" width="0.80" height="2.60" fill="#000" />
<text x="786.72" y="616.9" textLength="37" lengthAdjust="spacingAndGlyphs">23 Dec 07:00</text>
<rect x="830.10" y="608.00" width="0.80" height="2.60" fill="#000" />
<text x="830.30" y="616.9" textLength="37" lengthAdjust="spacingAndGlyphs">23 Dec 11:00</text>
<rect x="873.68" y="608.00" width="0.80" height="2.60" fill="#000" />
<text x="873.88" y="616.9" textLength="37" lengthAdjust="spacingAndGlyphs">23 Dec 15:00</text>
<rect x="917.25" y="608.00" width="0.80" height="2.60" fill="#000" />
<text x="917.45" y="616.9" textLength="37" lengthAdjust="spacingAndGlyphs">23 Dec 19:00</text>
<rect x="960.83" y="608.00" width="0.80" height="2.60" fill="#000" />
<text x="961.03" y="616.9" textLength="37" lengthAdjust="spacingAndGlyphs">23 Dec 23:00</text>
<rect x="1004.40" y="608.00" width="0.80" height="2.60" fill="#000" />
<text x="1004.60" y="616.9" textLength="37" lengthAdjust="spacingAndGlyphs">24 Dec 03:00</text>
<rect x="1047.98" y="608.00" width="0.80" height="2.60" fill="#000" />
<text x="1048.18" y="616.9" textLength="37" lengthAdjust="spacingAndGlyphs">24 Dec 08:00</text>
</g>
<text x="34" y="12.5" font-size="7.3px" fill="#000" stroke="#000" stroke-width="0.25" textLength="84" lengthAdjust="spacingAndGlyphs" xml:space="preserve">Gold, H1:  Gold vs. US Dollar</text>
<text x="4.7" y="501.8" font-size="6.9px" fill="#000" stroke="#000" stroke-width="0.2" textLength="76.3" lengthAdjust="spacingAndGlyphs">MACD(6,12,5) 7.454 4.933</text>
<g id="icons">
<path d="M10.5,6.4 H6.7 Q5.5,6.4 5.5,7.6 V12.3 Q5.5,13.5 6.7,13.5 H10.5 Z" fill="#fff" stroke="#e75d55" stroke-width="0.85"/>
<path d="M10.5,6.4 H14.3 Q15.5,6.4 15.5,7.6 V12.3 Q15.5,13.5 14.3,13.5 H10.5 Z" fill="#fff" stroke="#3583c7" stroke-width="0.85"/>
<rect x="5.60" y="6.00" width="4.90" height="1.30" fill="#e75d55" rx="0.4"/>
<rect x="10.50" y="6.00" width="4.90" height="1.30" fill="#3583c7" rx="0.4"/>
<rect x="7.00" y="7.30" width="3.20" height="5.40" fill="#f9cfcb" />
<rect x="10.90" y="7.30" width="3.00" height="5.40" fill="#c6e2f8" />
<rect x="7.00" y="7.65" width="3.20" height="0.80" fill="#e75d55" />
<rect x="10.90" y="7.65" width="3.00" height="0.80" fill="#3583c7" />
<rect x="7.00" y="9.25" width="3.20" height="0.80" fill="#e75d55" />
<rect x="10.90" y="9.25" width="3.00" height="0.80" fill="#3583c7" />
<rect x="7.00" y="10.90" width="3.20" height="0.80" fill="#e75d55" />
<rect x="10.90" y="10.90" width="3.00" height="0.80" fill="#3583c7" />
<path d="M19.9,6.4 H22.0 V9.6 H24.1 V13.5 H19.9 Z" fill="#fbdcd8" stroke="#e75d55" stroke-width="0.85" stroke-linejoin="round"/>
<rect x="19.60" y="6.00" width="2.80" height="1.00" fill="#e75d55" rx="0.4"/>
<rect x="23.2" y="6.1" width="3.3" height="1.8" fill="#c6c6c6"/>
<path d="M25.5,9.4 H27.8 V6.4 H29.6 V13.5 H25.5 Z" fill="#c2e1fb" stroke="#3583c7" stroke-width="0.85" stroke-linejoin="round"/>
</g>
<g id="watermarks">
<g transform="translate(15,62.9)" opacity="0.095"><g fill="#000"><polygon points="0,0 10.7,0 0,12.3"/><polygon points="11.4,0 21.6,0 11.4,11.8"/><polygon points="0,13 10.3,24.6 0,24.6"/><polygon points="11.4,12.5 21.6,12.5 11.4,24.6"/><path fill-rule="evenodd" d="M25,-0.2 L26.2,-1.1 L28.8,-1.1 L29,0.2 H35.1 V11.5 H25 Z M25,2.3 V5.2 H27.4 V2.3 Z M32.4,2.3 V5.2 H35.1 V2.3 Z M25,7.5 V9.3 H26.6 V7.5 Z M28.3,11.5 L30,8.9 L31.7,11.5 Z"/><path fill-rule="evenodd" d="M36.2,0 H44.9 V11.5 H36.2 Z M39.7,2.3 V9.2 H41.4 V2.3 Z"/><path fill-rule="evenodd" d="M25.9,13.2 H44.6 V24.7 H25.9 Z M29.6,16.1 V17.6 H41.1 V16.1 Z M29.6,20.7 V22.3 H41.1 V20.7 Z"/><path fill-rule="evenodd" d="M48.9,-0.3 H68.2 V10.3 H48.9 Z M52.3,2.2 V3.5 H63.9 V2.2 Z M53.2,5.8 V7.4 H63.9 V5.8 Z M54.9,7.7 L51.6,10.3 H58.4 Z"/><rect x="47.5" y="16.6" width="21.2" height="1.9"/><rect x="62.1" y="12.05" width="4.6" height="12.65"/><polygon points="54.9,8.3 47.2,14.7 52.3,14.7 52.3,18.9 50.9,22.4 46.3,27.6 48,27.3 54.9,23 57.8,18.9 57.8,14.4 60.7,14.1"/></g><g fill="#000" stroke="#000" stroke-width="0.2" font-size="6.3px" text-anchor="middle" font-family="Liberation Sans, sans-serif"><text x="1.2" y="34.5">Z</text><text x="10.5" y="34.5">H</text><text x="19.8" y="34.5">I</text><text x="28.1" y="34.5">S</text><text x="37.6" y="34.5">H</text><text x="47.6" y="34.5">E</text><text x="57.1" y="34.5">N</text><text x="67.3" y="34.5">G</text></g></g>
<g transform="translate(328.4,62.9)" opacity="0.095"><g fill="#000"><polygon points="0,0 10.7,0 0,12.3"/><polygon points="11.4,0 21.6,0 11.4,11.8"/><polygon points="0,13 10.3,24.6 0,24.6"/><polygon points="11.4,12.5 21.6,12.5 11.4,24.6"/><path fill-rule="evenodd" d="M25,-0.2 L26.2,-1.1 L28.8,-1.1 L29,0.2 H35.1 V11.5 H25 Z M25,2.3 V5.2 H27.4 V2.3 Z M32.4,2.3 V5.2 H35.1 V2.3 Z M25,7.5 V9.3 H26.6 V7.5 Z M28.3,11.5 L30,8.9 L31.7,11.5 Z"/><path fill-rule="evenodd" d="M36.2,0 H44.9 V11.5 H36.2 Z M39.7,2.3 V9.2 H41.4 V2.3 Z"/><path fill-rule="evenodd" d="M25.9,13.2 H44.6 V24.7 H25.9 Z M29.6,16.1 V17.6 H41.1 V16.1 Z M29.6,20.7 V22.3 H41.1 V20.7 Z"/><path fill-rule="evenodd" d="M48.9,-0.3 H68.2 V10.3 H48.9 Z M52.3,2.2 V3.5 H63.9 V2.2 Z M53.2,5.8 V7.4 H63.9 V5.8 Z M54.9,7.7 L51.6,10.3 H58.4 Z"/><rect x="47.5" y="16.6" width="21.2" height="1.9"/><rect x="62.1" y="12.05" width="4.6" height="12.65"/><polygon points="54.9,8.3 47.2,14.7 52.3,14.7 52.3,18.9 50.9,22.4 46.3,27.6 48,27.3 54.9,23 57.8,18.9 57.8,14.4 60.7,14.1"/></g><g fill="#000" stroke="#000" stroke-width="0.2" font-size="6.3px" text-anchor="middle" font-family="Liberation Sans, sans-serif"><text x="1.2" y="34.5">Z</text><text x="10.5" y="34.5">H</text><text x="19.8" y="34.5">I</text><text x="28.1" y="34.5">S</text><text x="37.6" y="34.5">H</text><text x="47.6" y="34.5">E</text><text x="57.1" y="34.5">N</text><text x="67.3" y="34.5">G</text></g></g>
<g transform="translate(633.8,62.9)" opacity="0.095"><g fill="#000"><polygon points="0,0 10.7,0 0,12.3"/><polygon points="11.4,0 21.6,0 11.4,11.8"/><polygon points="0,13 10.3,24.6 0,24.6"/><polygon points="11.4,12.5 21.6,12.5 11.4,24.6"/><path fill-rule="evenodd" d="M25,-0.2 L26.2,-1.1 L28.8,-1.1 L29,0.2 H35.1 V11.5 H25 Z M25,2.3 V5.2 H27.4 V2.3 Z M32.4,2.3 V5.2 H35.1 V2.3 Z M25,7.5 V9.3 H26.6 V7.5 Z M28.3,11.5 L30,8.9 L31.7,11.5 Z"/><path fill-rule="evenodd" d="M36.2,0 H44.9 V11.5 H36.2 Z M39.7,2.3 V9.2 H41.4 V2.3 Z"/><path fill-rule="evenodd" d="M25.9,13.2 H44.6 V24.7 H25.9 Z M29.6,16.1 V17.6 H41.1 V16.1 Z M29.6,20.7 V22.3 H41.1 V20.7 Z"/><path fill-rule="evenodd" d="M48.9,-0.3 H68.2 V10.3 H48.9 Z M52.3,2.2 V3.5 H63.9 V2.2 Z M53.2,5.8 V7.4 H63.9 V5.8 Z M54.9,7.7 L51.6,10.3 H58.4 Z"/><rect x="47.5" y="16.6" width="21.2" height="1.9"/><rect x="62.1" y="12.05" width="4.6" height="12.65"/><polygon points="54.9,8.3 47.2,14.7 52.3,14.7 52.3,18.9 50.9,22.4 46.3,27.6 48,27.3 54.9,23 57.8,18.9 57.8,14.4 60.7,14.1"/></g><g fill="#000" stroke="#000" stroke-width="0.2" font-size="6.3px" text-anchor="middle" font-family="Liberation Sans, sans-serif"><text x="1.2" y="34.5">Z</text><text x="10.5" y="34.5">H</text><text x="19.8" y="34.5">I</text><text x="28.1" y="34.5">S</text><text x="37.6" y="34.5">H</text><text x="47.6" y="34.5">E</text><text x="57.1" y="34.5">N</text><text x="67.3" y="34.5">G</text></g></g>
<g transform="translate(947.5,62.9)" opacity="0.095"><g fill="#000"><polygon points="0,0 10.7,0 0,12.3"/><polygon points="11.4,0 21.6,0 11.4,11.8"/><polygon points="0,13 10.3,24.6 0,24.6"/><polygon points="11.4,12.5 21.6,12.5 11.4,24.6"/><path fill-rule="evenodd" d="M25,-0.2 L26.2,-1.1 L28.8,-1.1 L29,0.2 H35.1 V11.5 H25 Z M25,2.3 V5.2 H27.4 V2.3 Z M32.4,2.3 V5.2 H35.1 V2.3 Z M25,7.5 V9.3 H26.6 V7.5 Z M28.3,11.5 L30,8.9 L31.7,11.5 Z"/><path fill-rule="evenodd" d="M36.2,0 H44.9 V11.5 H36.2 Z M39.7,2.3 V9.2 H41.4 V2.3 Z"/><path fill-rule="evenodd" d="M25.9,13.2 H44.6 V24.7 H25.9 Z M29.6,16.1 V17.6 H41.1 V16.1 Z M29.6,20.7 V22.3 H41.1 V20.7 Z"/><path fill-rule="evenodd" d="M48.9,-0.3 H68.2 V10.3 H48.9 Z M52.3,2.2 V3.5 H63.9 V2.2 Z M53.2,5.8 V7.4 H63.9 V5.8 Z M54.9,7.7 L51.6,10.3 H58.4 Z"/><rect x="47.5" y="16.6" width="21.2" height="1.9"/><rect x="62.1" y="12.05" width="4.6" height="12.65"/><polygon points="54.9,8.3 47.2,14.7 52.3,14.7 52.3,18.9 50.9,22.4 46.3,27.6 48,27.3 54.9,23 57.8,18.9 57.8,14.4 60.7,14.1"/></g><g fill="#000" stroke="#000" stroke-width="0.2" font-size="6.3px" text-anchor="middle" font-family="Liberation Sans, sans-serif"><text x="1.2" y="34.5">Z</text><text x="10.5" y="34.5">H</text><text x="19.8" y="34.5">I</text><text x="28.1" y="34.5">S</text><text x="37.6" y="34.5">H</text><text x="47.6" y="34.5">E</text><text x="57.1" y="34.5">N</text><text x="67.3" y="34.5">G</text></g></g>
<g transform="translate(1252,62.9)" opacity="0.095"><g fill="#000"><polygon points="0,0 10.7,0 0,12.3"/><polygon points="11.4,0 21.6,0 11.4,11.8"/><polygon points="0,13 10.3,24.6 0,24.6"/><polygon points="11.4,12.5 21.6,12.5 11.4,24.6"/><path fill-rule="evenodd" d="M25,-0.2 L26.2,-1.1 L28.8,-1.1 L29,0.2 H35.1 V11.5 H25 Z M25,2.3 V5.2 H27.4 V2.3 Z M32.4,2.3 V5.2 H35.1 V2.3 Z M25,7.5 V9.3 H26.6 V7.5 Z M28.3,11.5 L30,8.9 L31.7,11.5 Z"/><path fill-rule="evenodd" d="M36.2,0 H44.9 V11.5 H36.2 Z M39.7,2.3 V9.2 H41.4 V2.3 Z"/><path fill-rule="evenodd" d="M25.9,13.2 H44.6 V24.7 H25.9 Z M29.6,16.1 V17.6 H41.1 V16.1 Z M29.6,20.7 V22.3 H41.1 V20.7 Z"/><path fill-rule="evenodd" d="M48.9,-0.3 H68.2 V10.3 H48.9 Z M52.3,2.2 V3.5 H63.9 V2.2 Z M53.2,5.8 V7.4 H63.9 V5.8 Z M54.9,7.7 L51.6,10.3 H58.4 Z"/><rect x="47.5" y="16.6" width="21.2" height="1.9"/><rect x="62.1" y="12.05" width="4.6" height="12.65"/><polygon points="54.9,8.3 47.2,14.7 52.3,14.7 52.3,18.9 50.9,22.4 46.3,27.6 48,27.3 54.9,23 57.8,18.9 57.8,14.4 60.7,14.1"/></g><g fill="#000" stroke="#000" stroke-width="0.2" font-size="6.3px" text-anchor="middle" font-family="Liberation Sans, sans-serif"><text x="1.2" y="34.5">Z</text><text x="10.5" y="34.5">H</text><text x="19.8" y="34.5">I</text><text x="28.1" y="34.5">S</text><text x="37.6" y="34.5">H</text><text x="47.6" y="34.5">E</text><text x="57.1" y="34.5">N</text><text x="67.3" y="34.5">G</text></g></g>
<g transform="translate(15,185.1)" opacity="0.095"><g fill="#000"><polygon points="0,0 10.7,0 0,12.3"/><polygon points="11.4,0 21.6,0 11.4,11.8"/><polygon points="0,13 10.3,24.6 0,24.6"/><polygon points="11.4,12.5 21.6,12.5 11.4,24.6"/><path fill-rule="evenodd" d="M25,-0.2 L26.2,-1.1 L28.8,-1.1 L29,0.2 H35.1 V11.5 H25 Z M25,2.3 V5.2 H27.4 V2.3 Z M32.4,2.3 V5.2 H35.1 V2.3 Z M25,7.5 V9.3 H26.6 V7.5 Z M28.3,11.5 L30,8.9 L31.7,11.5 Z"/><path fill-rule="evenodd" d="M36.2,0 H44.9 V11.5 H36.2 Z M39.7,2.3 V9.2 H41.4 V2.3 Z"/><path fill-rule="evenodd" d="M25.9,13.2 H44.6 V24.7 H25.9 Z M29.6,16.1 V17.6 H41.1 V16.1 Z M29.6,20.7 V22.3 H41.1 V20.7 Z"/><path fill-rule="evenodd" d="M48.9,-0.3 H68.2 V10.3 H48.9 Z M52.3,2.2 V3.5 H63.9 V2.2 Z M53.2,5.8 V7.4 H63.9 V5.8 Z M54.9,7.7 L51.6,10.3 H58.4 Z"/><rect x="47.5" y="16.6" width="21.2" height="1.9"/><rect x="62.1" y="12.05" width="4.6" height="12.65"/><polygon points="54.9,8.3 47.2,14.7 52.3,14.7 52.3,18.9 50.9,22.4 46.3,27.6 48,27.3 54.9,23 57.8,18.9 57.8,14.4 60.7,14.1"/></g><g fill="#000" stroke="#000" stroke-width="0.2" font-size="6.3px" text-anchor="middle" font-family="Liberation Sans, sans-serif"><text x="1.2" y="34.5">Z</text><text x="10.5" y="34.5">H</text><text x="19.8" y="34.5">I</text><text x="28.1" y="34.5">S</text><text x="37.6" y="34.5">H</text><text x="47.6" y="34.5">E</text><text x="57.1" y="34.5">N</text><text x="67.3" y="34.5">G</text></g></g>
<g transform="translate(328.4,185.1)" opacity="0.095"><g fill="#000"><polygon points="0,0 10.7,0 0,12.3"/><polygon points="11.4,0 21.6,0 11.4,11.8"/><polygon points="0,13 10.3,24.6 0,24.6"/><polygon points="11.4,12.5 21.6,12.5 11.4,24.6"/><path fill-rule="evenodd" d="M25,-0.2 L26.2,-1.1 L28.8,-1.1 L29,0.2 H35.1 V11.5 H25 Z M25,2.3 V5.2 H27.4 V2.3 Z M32.4,2.3 V5.2 H35.1 V2.3 Z M25,7.5 V9.3 H26.6 V7.5 Z M28.3,11.5 L30,8.9 L31.7,11.5 Z"/><path fill-rule="evenodd" d="M36.2,0 H44.9 V11.5 H36.2 Z M39.7,2.3 V9.2 H41.4 V2.3 Z"/><path fill-rule="evenodd" d="M25.9,13.2 H44.6 V24.7 H25.9 Z M29.6,16.1 V17.6 H41.1 V16.1 Z M29.6,20.7 V22.3 H41.1 V20.7 Z"/><path fill-rule="evenodd" d="M48.9,-0.3 H68.2 V10.3 H48.9 Z M52.3,2.2 V3.5 H63.9 V2.2 Z M53.2,5.8 V7.4 H63.9 V5.8 Z M54.9,7.7 L51.6,10.3 H58.4 Z"/><rect x="47.5" y="16.6" width="21.2" height="1.9"/><rect x="62.1" y="12.05" width="4.6" height="12.65"/><polygon points="54.9,8.3 47.2,14.7 52.3,14.7 52.3,18.9 50.9,22.4 46.3,27.6 48,27.3 54.9,23 57.8,18.9 57.8,14.4 60.7,14.1"/></g><g fill="#000" stroke="#000" stroke-width="0.2" font-size="6.3px" text-anchor="middle" font-family="Liberation Sans, sans-serif"><text x="1.2" y="34.5">Z</text><text x="10.5" y="34.5">H</text><text x="19.8" y="34.5">I</text><text x="28.1" y="34.5">S</text><text x="37.6" y="34.5">H</text><text x="47.6" y="34.5">E</text><text x="57.1" y="34.5">N</text><text x="67.3" y="34.5">G</text></g></g>
<g transform="translate(633.8,185.1)" opacity="0.095"><g fill="#000"><polygon points="0,0 10.7,0 0,12.3"/><polygon points="11.4,0 21.6,0 11.4,11.8"/><polygon points="0,13 10.3,24.6 0,24.6"/><polygon points="11.4,12.5 21.6,12.5 11.4,24.6"/><path fill-rule="evenodd" d="M25,-0.2 L26.2,-1.1 L28.8,-1.1 L29,0.2 H35.1 V11.5 H25 Z M25,2.3 V5.2 H27.4 V2.3 Z M32.4,2.3 V5.2 H35.1 V2.3 Z M25,7.5 V9.3 H26.6 V7.5 Z M28.3,11.5 L30,8.9 L31.7,11.5 Z"/><path fill-rule="evenodd" d="M36.2,0 H44.9 V11.5 H36.2 Z M39.7,2.3 V9.2 H41.4 V2.3 Z"/><path fill-rule="evenodd" d="M25.9,13.2 H44.6 V24.7 H25.9 Z M29.6,16.1 V17.6 H41.1 V16.1 Z M29.6,20.7 V22.3 H41.1 V20.7 Z"/><path fill-rule="evenodd" d="M48.9,-0.3 H68.2 V10.3 H48.9 Z M52.3,2.2 V3.5 H63.9 V2.2 Z M53.2,5.8 V7.4 H63.9 V5.8 Z M54.9,7.7 L51.6,10.3 H58.4 Z"/><rect x="47.5" y="16.6" width="21.2" height="1.9"/><rect x="62.1" y="12.05" width="4.6" height="12.65"/><polygon points="54.9,8.3 47.2,14.7 52.3,14.7 52.3,18.9 50.9,22.4 46.3,27.6 48,27.3 54.9,23 57.8,18.9 57.8,14.4 60.7,14.1"/></g><g fill="#000" stroke="#000" stroke-width="0.2" font-size="6.3px" text-anchor="middle" font-family="Liberation Sans, sans-serif"><text x="1.2" y="34.5">Z</text><text x="10.5" y="34.5">H</text><text x="19.8" y="34.5">I</text><text x="28.1" y="34.5">S</text><text x="37.6" y="34.5">H</text><text x="47.6" y="34.5">E</text><text x="57.1" y="34.5">N</text><text x="67.3" y="34.5">G</text></g></g>
<g transform="translate(947.5,185.1)" opacity="0.095"><g fill="#000"><polygon points="0,0 10.7,0 0,12.3"/><polygon points="11.4,0 21.6,0 11.4,11.8"/><polygon points="0,13 10.3,24.6 0,24.6"/><polygon points="11.4,12.5 21.6,12.5 11.4,24.6"/><path fill-rule="evenodd" d="M25,-0.2 L26.2,-1.1 L28.8,-1.1 L29,0.2 H35.1 V11.5 H25 Z M25,2.3 V5.2 H27.4 V2.3 Z M32.4,2.3 V5.2 H35.1 V2.3 Z M25,7.5 V9.3 H26.6 V7.5 Z M28.3,11.5 L30,8.9 L31.7,11.5 Z"/><path fill-rule="evenodd" d="M36.2,0 H44.9 V11.5 H36.2 Z M39.7,2.3 V9.2 H41.4 V2.3 Z"/><path fill-rule="evenodd" d="M25.9,13.2 H44.6 V24.7 H25.9 Z M29.6,16.1 V17.6 H41.1 V16.1 Z M29.6,20.7 V22.3 H41.1 V20.7 Z"/><path fill-rule="evenodd" d="M48.9,-0.3 H68.2 V10.3 H48.9 Z M52.3,2.2 V3.5 H63.9 V2.2 Z M53.2,5.8 V7.4 H63.9 V5.8 Z M54.9,7.7 L51.6,10.3 H58.4 Z"/><rect x="47.5" y="16.6" width="21.2" height="1.9"/><rect x="62.1" y="12.05" width="4.6" height="12.65"/><polygon points="54.9,8.3 47.2,14.7 52.3,14.7 52.3,18.9 50.9,22.4 46.3,27.6 48,27.3 54.9,23 57.8,18.9 57.8,14.4 60.7,14.1"/></g><g fill="#000" stroke="#000" stroke-width="0.2" font-size="6.3px" text-anchor="middle" font-family="Liberation Sans, sans-serif"><text x="1.2" y="34.5">Z</text><text x="10.5" y="34.5">H</text><text x="19.8" y="34.5">I</text><text x="28.1" y="34.5">S</text><text x="37.6" y="34.5">H</text><text x="47.6" y="34.5">E</text><text x="57.1" y="34.5">N</text><text x="67.3" y="34.5">G</text></g></g>
<g transform="translate(1252,185.1)" opacity="0.095"><g fill="#000"><polygon points="0,0 10.7,0 0,12.3"/><polygon points="11.4,0 21.6,0 11.4,11.8"/><polygon points="0,13 10.3,24.6 0,24.6"/><polygon points="11.4,12.5 21.6,12.5 11.4,24.6"/><path fill-rule="evenodd" d="M25,-0.2 L26.2,-1.1 L28.8,-1.1 L29,0.2 H35.1 V11.5 H25 Z M25,2.3 V5.2 H27.4 V2.3 Z M32.4,2.3 V5.2 H35.1 V2.3 Z M25,7.5 V9.3 H26.6 V7.5 Z M28.3,11.5 L30,8.9 L31.7,11.5 Z"/><path fill-rule="evenodd" d="M36.2,0 H44.9 V11.5 H36.2 Z M39.7,2.3 V9.2 H41.4 V2.3 Z"/><path fill-rule="evenodd" d="M25.9,13.2 H44.6 V24.7 H25.9 Z M29.6,16.1 V17.6 H41.1 V16.1 Z M29.6,20.7 V22.3 H41.1 V20.7 Z"/><path fill-rule="evenodd" d="M48.9,-0.3 H68.2 V10.3 H48.9 Z M52.3,2.2 V3.5 H63.9 V2.2 Z M53.2,5.8 V7.4 H63.9 V5.8 Z M54.9,7.7 L51.6,10.3 H58.4 Z"/><rect x="47.5" y="16.6" width="21.2" height="1.9"/><rect x="62.1" y="12.05" width="4.6" height="12.65"/><polygon points="54.9,8.3 47.2,14.7 52.3,14.7 52.3,18.9 50.9,22.4 46.3,27.6 48,27.3 54.9,23 57.8,18.9 57.8,14.4 60.7,14.1"/></g><g fill="#000" stroke="#000" stroke-width="0.2" font-size="6.3px" text-anchor="middle" font-family="Liberation Sans, sans-serif"><text x="1.2" y="34.5">Z</text><text x="10.5" y="34.5">H</text><text x="19.8" y="34.5">I</text><text x="28.1" y="34.5">S</text><text x="37.6" y="34.5">H</text><text x="47.6" y="34.5">E</text><text x="57.1" y="34.5">N</text><text x="67.3" y="34.5">G</text></g></g>
<g transform="translate(15,307.3)" opacity="0.095"><g fill="#000"><polygon points="0,0 10.7,0 0,12.3"/><polygon points="11.4,0 21.6,0 11.4,11.8"/><polygon points="0,13 10.3,24.6 0,24.6"/><polygon points="11.4,12.5 21.6,12.5 11.4,24.6"/><path fill-rule="evenodd" d="M25,-0.2 L26.2,-1.1 L28.8,-1.1 L29,0.2 H35.1 V11.5 H25 Z M25,2.3 V5.2 H27.4 V2.3 Z M32.4,2.3 V5.2 H35.1 V2.3 Z M25,7.5 V9.3 H26.6 V7.5 Z M28.3,11.5 L30,8.9 L31.7,11.5 Z"/><path fill-rule="evenodd" d="M36.2,0 H44.9 V11.5 H36.2 Z M39.7,2.3 V9.2 H41.4 V2.3 Z"/><path fill-rule="evenodd" d="M25.9,13.2 H44.6 V24.7 H25.9 Z M29.6,16.1 V17.6 H41.1 V16.1 Z M29.6,20.7 V22.3 H41.1 V20.7 Z"/><path fill-rule="evenodd" d="M48.9,-0.3 H68.2 V10.3 H48.9 Z M52.3,2.2 V3.5 H63.9 V2.2 Z M53.2,5.8 V7.4 H63.9 V5.8 Z M54.9,7.7 L51.6,10.3 H58.4 Z"/><rect x="47.5" y="16.6" width="21.2" height="1.9"/><rect x="62.1" y="12.05" width="4.6" height="12.65"/><polygon points="54.9,8.3 47.2,14.7 52.3,14.7 52.3,18.9 50.9,22.4 46.3,27.6 48,27.3 54.9,23 57.8,18.9 57.8,14.4 60.7,14.1"/></g><g fill="#000" stroke="#000" stroke-width="0.2" font-size="6.3px" text-anchor="middle" font-family="Liberation Sans, sans-serif"><text x="1.2" y="34.5">Z</text><text x="10.5" y="34.5">H</text><text x="19.8" y="34.5">I</text><text x="28.1" y="34.5">S</text><text x="37.6" y="34.5">H</text><text x="47.6" y="34.5">E</text><text x="57.1" y="34.5">N</text><text x="67.3" y="34.5">G</text></g></g>
<g transform="translate(328.4,307.3)" opacity="0.095"><g fill="#000"><polygon points="0,0 10.7,0 0,12.3"/><polygon points="11.4,0 21.6,0 11.4,11.8"/><polygon points="0,13 10.3,24.6 0,24.6"/><polygon points="11.4,12.5 21.6,12.5 11.4,24.6"/><path fill-rule="evenodd" d="M25,-0.2 L26.2,-1.1 L28.8,-1.1 L29,0.2 H35.1 V11.5 H25 Z M25,2.3 V5.2 H27.4 V2.3 Z M32.4,2.3 V5.2 H35.1 V2.3 Z M25,7.5 V9.3 H26.6 V7.5 Z M28.3,11.5 L30,8.9 L31.7,11.5 Z"/><path fill-rule="evenodd" d="M36.2,0 H44.9 V11.5 H36.2 Z M39.7,2.3 V9.2 H41.4 V2.3 Z"/><path fill-rule="evenodd" d="M25.9,13.2 H44.6 V24.7 H25.9 Z M29.6,16.1 V17.6 H41.1 V16.1 Z M29.6,20.7 V22.3 H41.1 V20.7 Z"/><path fill-rule="evenodd" d="M48.9,-0.3 H68.2 V10.3 H48.9 Z M52.3,2.2 V3.5 H63.9 V2.2 Z M53.2,5.8 V7.4 H63.9 V5.8 Z M54.9,7.7 L51.6,10.3 H58.4 Z"/><rect x="47.5" y="16.6" width="21.2" height="1.9"/><rect x="62.1" y="12.05" width="4.6" height="12.65"/><polygon points="54.9,8.3 47.2,14.7 52.3,14.7 52.3,18.9 50.9,22.4 46.3,27.6 48,27.3 54.9,23 57.8,18.9 57.8,14.4 60.7,14.1"/></g><g fill="#000" stroke="#000" stroke-width="0.2" font-size="6.3px" text-anchor="middle" font-family="Liberation Sans, sans-serif"><text x="1.2" y="34.5">Z</text><text x="10.5" y="34.5">H</text><text x="19.8" y="34.5">I</text><text x="28.1" y="34.5">S</text><text x="37.6" y="34.5">H</text><text x="47.6" y="34.5">E</text><text x="57.1" y="34.5">N</text><text x="67.3" y="34.5">G</text></g></g>
<g transform="translate(633.8,307.3)" opacity="0.095"><g fill="#000"><polygon points="0,0 10.7,0 0,12.3"/><polygon points="11.4,0 21.6,0 11.4,11.8"/><polygon points="0,13 10.3,24.6 0,24.6"/><polygon points="11.4,12.5 21.6,12.5 11.4,24.6"/><path fill-rule="evenodd" d="M25,-0.2 L26.2,-1.1 L28.8,-1.1 L29,0.2 H35.1 V11.5 H25 Z M25,2.3 V5.2 H27.4 V2.3 Z M32.4,2.3 V5.2 H35.1 V2.3 Z M25,7.5 V9.3 H26.6 V7.5 Z M28.3,11.5 L30,8.9 L31.7,11.5 Z"/><path fill-rule="evenodd" d="M36.2,0 H44.9 V11.5 H36.2 Z M39.7,2.3 V9.2 H41.4 V2.3 Z"/><path fill-rule="evenodd" d="M25.9,13.2 H44.6 V24.7 H25.9 Z M29.6,16.1 V17.6 H41.1 V16.1 Z M29.6,20.7 V22.3 H41.1 V20.7 Z"/><path fill-rule="evenodd" d="M48.9,-0.3 H68.2 V10.3 H48.9 Z M52.3,2.2 V3.5 H63.9 V2.2 Z M53.2,5.8 V7.4 H63.9 V5.8 Z M54.9,7.7 L51.6,10.3 H58.4 Z"/><rect x="47.5" y="16.6" width="21.2" height="1.9"/><rect x="62.1" y="12.05" width="4.6" height="12.65"/><polygon points="54.9,8.3 47.2,14.7 52.3,14.7 52.3,18.9 50.9,22.4 46.3,27.6 48,27.3 54.9,23 57.8,18.9 57.8,14.4 60.7,14.1"/></g><g fill="#000" stroke="#000" stroke-width="0.2" font-size="6.3px" text-anchor="middle" font-family="Liberation Sans, sans-serif"><text x="1.2" y="34.5">Z</text><text x="10.5" y="34.5">H</text><text x="19.8" y="34.5">I</text><text x="28.1" y="34.5">S</text><text x="37.6" y="34.5">H</text><text x="47.6" y="34.5">E</text><text x="57.1" y="34.5">N</text><text x="67.3" y="34.5">G</text></g></g>
<g transform="translate(947.5,307.3)" opacity="0.095"><g fill="#000"><polygon points="0,0 10.7,0 0,12.3"/><polygon points="11.4,0 21.6,0 11.4,11.8"/><polygon points="0,13 10.3,24.6 0,24.6"/><polygon points="11.4,12.5 21.6,12.5 11.4,24.6"/><path fill-rule="evenodd" d="M25,-0.2 L26.2,-1.1 L28.8,-1.1 L29,0.2 H35.1 V11.5 H25 Z M25,2.3 V5.2 H27.4 V2.3 Z M32.4,2.3 V5.2 H35.1 V2.3 Z M25,7.5 V9.3 H26.6 V7.5 Z M28.3,11.5 L30,8.9 L31.7,11.5 Z"/><path fill-rule="evenodd" d="M36.2,0 H44.9 V11.5 H36.2 Z M39.7,2.3 V9.2 H41.4 V2.3 Z"/><path fill-rule="evenodd" d="M25.9,13.2 H44.6 V24.7 H25.9 Z M29.6,16.1 V17.6 H41.1 V16.1 Z M29.6,20.7 V22.3 H41.1 V20.7 Z"/><path fill-rule="evenodd" d="M48.9,-0.3 H68.2 V10.3 H48.9 Z M52.3,2.2 V3.5 H63.9 V2.2 Z M53.2,5.8 V7.4 H63.9 V5.8 Z M54.9,7.7 L51.6,10.3 H58.4 Z"/><rect x="47.5" y="16.6" width="21.2" height="1.9"/><rect x="62.1" y="12.05" width="4.6" height="12.65"/><polygon points="54.9,8.3 47.2,14.7 52.3,14.7 52.3,18.9 50.9,22.4 46.3,27.6 48,27.3 54.9,23 57.8,18.9 57.8,14.4 60.7,14.1"/></g><g fill="#000" stroke="#000" stroke-width="0.2" font-size="6.3px" text-anchor="middle" font-family="Liberation Sans, sans-serif"><text x="1.2" y="34.5">Z</text><text x="10.5" y="34.5">H</text><text x="19.8" y="34.5">I</text><text x="28.1" y="34.5">S</text><text x="37.6" y="34.5">H</text><text x="47.6" y="34.5">E</text><text x="57.1" y="34.5">N</text><text x="67.3" y="34.5">G</text></g></g>
<g transform="translate(1252,307.3)" opacity="0.095"><g fill="#000"><polygon points="0,0 10.7,0 0,12.3"/><polygon points="11.4,0 21.6,0 11.4,11.8"/><polygon points="0,13 10.3,24.6 0,24.6"/><polygon points="11.4,12.5 21.6,12.5 11.4,24.6"/><path fill-rule="evenodd" d="M25,-0.2 L26.2,-1.1 L28.8,-1.1 L29,0.2 H35.1 V11.5 H25 Z M25,2.3 V5.2 H27.4 V2.3 Z M32.4,2.3 V5.2 H35.1 V2.3 Z M25,7.5 V9.3 H26.6 V7.5 Z M28.3,11.5 L30,8.9 L31.7,11.5 Z"/><path fill-rule="evenodd" d="M36.2,0 H44.9 V11.5 H36.2 Z M39.7,2.3 V9.2 H41.4 V2.3 Z"/><path fill-rule="evenodd" d="M25.9,13.2 H44.6 V24.7 H25.9 Z M29.6,16.1 V17.6 H41.1 V16.1 Z M29.6,20.7 V22.3 H41.1 V20.7 Z"/><path fill-rule="evenodd" d="M48.9,-0.3 H68.2 V10.3 H48.9 Z M52.3,2.2 V3.5 H63.9 V2.2 Z M53.2,5.8 V7.4 H63.9 V5.8 Z M54.9,7.7 L51.6,10.3 H58.4 Z"/><rect x="47.5" y="16.6" width="21.2" height="1.9"/><rect x="62.1" y="12.05" width="4.6" height="12.65"/><polygon points="54.9,8.3 47.2,14.7 52.3,14.7 52.3,18.9 50.9,22.4 46.3,27.6 48,27.3 54.9,23 57.8,18.9 57.8,14.4 60.7,14.1"/></g><g fill="#000" stroke="#000" stroke-width="0.2" font-size="6.3px" text-anchor="middle" font-family="Liberation Sans, sans-serif"><text x="1.2" y="34.5">Z</text><text x="10.5" y="34.5">H</text><text x="19.8" y="34.5">I</text><text x="28.1" y="34.5">S</text><text x="37.6" y="34.5">H</text><text x="47.6" y="34.5">E</text><text x="57.1" y="34.5">N</text><text x="67.3" y="34.5">G</text></g></g>
<g transform="translate(15,429.6)" opacity="0.095"><g fill="#000"><polygon points="0,0 10.7,0 0,12.3"/><polygon points="11.4,0 21.6,0 11.4,11.8"/><polygon points="0,13 10.3,24.6 0,24.6"/><polygon points="11.4,12.5 21.6,12.5 11.4,24.6"/><path fill-rule="evenodd" d="M25,-0.2 L26.2,-1.1 L28.8,-1.1 L29,0.2 H35.1 V11.5 H25 Z M25,2.3 V5.2 H27.4 V2.3 Z M32.4,2.3 V5.2 H35.1 V2.3 Z M25,7.5 V9.3 H26.6 V7.5 Z M28.3,11.5 L30,8.9 L31.7,11.5 Z"/><path fill-rule="evenodd" d="M36.2,0 H44.9 V11.5 H36.2 Z M39.7,2.3 V9.2 H41.4 V2.3 Z"/><path fill-rule="evenodd" d="M25.9,13.2 H44.6 V24.7 H25.9 Z M29.6,16.1 V17.6 H41.1 V16.1 Z M29.6,20.7 V22.3 H41.1 V20.7 Z"/><path fill-rule="evenodd" d="M48.9,-0.3 H68.2 V10.3 H48.9 Z M52.3,2.2 V3.5 H63.9 V2.2 Z M53.2,5.8 V7.4 H63.9 V5.8 Z M54.9,7.7 L51.6,10.3 H58.4 Z"/><rect x="47.5" y="16.6" width="21.2" height="1.9"/><rect x="62.1" y="12.05" width="4.6" height="12.65"/><polygon points="54.9,8.3 47.2,14.7 52.3,14.7 52.3,18.9 50.9,22.4 46.3,27.6 48,27.3 54.9,23 57.8,18.9 57.8,14.4 60.7,14.1"/></g><g fill="#000" stroke="#000" stroke-width="0.2" font-size="6.3px" text-anchor="middle" font-family="Liberation Sans, sans-serif"><text x="1.2" y="34.5">Z</text><text x="10.5" y="34.5">H</text><text x="19.8" y="34.5">I</text><text x="28.1" y="34.5">S</text><text x="37.6" y="34.5">H</text><text x="47.6" y="34.5">E</text><text x="57.1" y="34.5">N</text><text x="67.3" y="34.5">G</text></g></g>
<g transform="translate(328.4,429.6)" opacity="0.095"><g fill="#000"><polygon points="0,0 10.7,0 0,12.3"/><polygon points="11.4,0 21.6,0 11.4,11.8"/><polygon points="0,13 10.3,24.6 0,24.6"/><polygon points="11.4,12.5 21.6,12.5 11.4,24.6"/><path fill-rule="evenodd" d="M25,-0.2 L26.2,-1.1 L28.8,-1.1 L29,0.2 H35.1 V11.5 H25 Z M25,2.3 V5.2 H27.4 V2.3 Z M32.4,2.3 V5.2 H35.1 V2.3 Z M25,7.5 V9.3 H26.6 V7.5 Z M28.3,11.5 L30,8.9 L31.7,11.5 Z"/><path fill-rule="evenodd" d="M36.2,0 H44.9 V11.5 H36.2 Z M39.7,2.3 V9.2 H41.4 V2.3 Z"/><path fill-rule="evenodd" d="M25.9,13.2 H44.6 V24.7 H25.9 Z M29.6,16.1 V17.6 H41.1 V16.1 Z M29.6,20.7 V22.3 H41.1 V20.7 Z"/><path fill-rule="evenodd" d="M48.9,-0.3 H68.2 V10.3 H48.9 Z M52.3,2.2 V3.5 H63.9 V2.2 Z M53.2,5.8 V7.4 H63.9 V5.8 Z M54.9,7.7 L51.6,10.3 H58.4 Z"/><rect x="47.5" y="16.6" width="21.2" height="1.9"/><rect x="62.1" y="12.05" width="4.6" height="12.65"/><polygon points="54.9,8.3 47.2,14.7 52.3,14.7 52.3,18.9 50.9,22.4 46.3,27.6 48,27.3 54.9,23 57.8,18.9 57.8,14.4 60.7,14.1"/></g><g fill="#000" stroke="#000" stroke-width="0.2" font-size="6.3px" text-anchor="middle" font-family="Liberation Sans, sans-serif"><text x="1.2" y="34.5">Z</text><text x="10.5" y="34.5">H</text><text x="19.8" y="34.5">I</text><text x="28.1" y="34.5">S</text><text x="37.6" y="34.5">H</text><text x="47.6" y="34.5">E</text><text x="57.1" y="34.5">N</text><text x="67.3" y="34.5">G</text></g></g>
<g transform="translate(633.8,429.6)" opacity="0.095"><g fill="#000"><polygon points="0,0 10.7,0 0,12.3"/><polygon points="11.4,0 21.6,0 11.4,11.8"/><polygon points="0,13 10.3,24.6 0,24.6"/><polygon points="11.4,12.5 21.6,12.5 11.4,24.6"/><path fill-rule="evenodd" d="M25,-0.2 L26.2,-1.1 L28.8,-1.1 L29,0.2 H35.1 V11.5 H25 Z M25,2.3 V5.2 H27.4 V2.3 Z M32.4,2.3 V5.2 H35.1 V2.3 Z M25,7.5 V9.3 H26.6 V7.5 Z M28.3,11.5 L30,8.9 L31.7,11.5 Z"/><path fill-rule="evenodd" d="M36.2,0 H44.9 V11.5 H36.2 Z M39.7,2.3 V9.2 H41.4 V2.3 Z"/><path fill-rule="evenodd" d="M25.9,13.2 H44.6 V24.7 H25.9 Z M29.6,16.1 V17.6 H41.1 V16.1 Z M29.6,20.7 V22.3 H41.1 V20.7 Z"/><path fill-rule="evenodd" d="M48.9,-0.3 H68.2 V10.3 H48.9 Z M52.3,2.2 V3.5 H63.9 V2.2 Z M53.2,5.8 V7.4 H63.9 V5.8 Z M54.9,7.7 L51.6,10.3 H58.4 Z"/><rect x="47.5" y="16.6" width="21.2" height="1.9"/><rect x="62.1" y="12.05" width="4.6" height="12.65"/><polygon points="54.9,8.3 47.2,14.7 52.3,14.7 52.3,18.9 50.9,22.4 46.3,27.6 48,27.3 54.9,23 57.8,18.9 57.8,14.4 60.7,14.1"/></g><g fill="#000" stroke="#000" stroke-width="0.2" font-size="6.3px" text-anchor="middle" font-family="Liberation Sans, sans-serif"><text x="1.2" y="34.5">Z</text><text x="10.5" y="34.5">H</text><text x="19.8" y="34.5">I</text><text x="28.1" y="34.5">S</text><text x="37.6" y="34.5">H</text><text x="47.6" y="34.5">E</text><text x="57.1" y="34.5">N</text><text x="67.3" y="34.5">G</text></g></g>
<g transform="translate(947.5,429.6)" opacity="0.095"><g fill="#000"><polygon points="0,0 10.7,0 0,12.3"/><polygon points="11.4,0 21.6,0 11.4,11.8"/><polygon points="0,13 10.3,24.6 0,24.6"/><polygon points="11.4,12.5 21.6,12.5 11.4,24.6"/><path fill-rule="evenodd" d="M25,-0.2 L26.2,-1.1 L28.8,-1.1 L29,0.2 H35.1 V11.5 H25 Z M25,2.3 V5.2 H27.4 V2.3 Z M32.4,2.3 V5.2 H35.1 V2.3 Z M25,7.5 V9.3 H26.6 V7.5 Z M28.3,11.5 L30,8.9 L31.7,11.5 Z"/><path fill-rule="evenodd" d="M36.2,0 H44.9 V11.5 H36.2 Z M39.7,2.3 V9.2 H41.4 V2.3 Z"/><path fill-rule="evenodd" d="M25.9,13.2 H44.6 V24.7 H25.9 Z M29.6,16.1 V17.6 H41.1 V16.1 Z M29.6,20.7 V22.3 H41.1 V20.7 Z"/><path fill-rule="evenodd" d="M48.9,-0.3 H68.2 V10.3 H48.9 Z M52.3,2.2 V3.5 H63.9 V2.2 Z M53.2,5.8 V7.4 H63.9 V5.8 Z M54.9,7.7 L51.6,10.3 H58.4 Z"/><rect x="47.5" y="16.6" width="21.2" height="1.9"/><rect x="62.1" y="12.05" width="4.6" height="12.65"/><polygon points="54.9,8.3 47.2,14.7 52.3,14.7 52.3,18.9 50.9,22.4 46.3,27.6 48,27.3 54.9,23 57.8,18.9 57.8,14.4 60.7,14.1"/></g><g fill="#000" stroke="#000" stroke-width="0.2" font-size="6.3px" text-anchor="middle" font-family="Liberation Sans, sans-serif"><text x="1.2" y="34.5">Z</text><text x="10.5" y="34.5">H</text><text x="19.8" y="34.5">I</text><text x="28.1" y="34.5">S</text><text x="37.6" y="34.5">H</text><text x="47.6" y="34.5">E</text><text x="57.1" y="34.5">N</text><text x="67.3" y="34.5">G</text></g></g>
<g transform="translate(1252,429.6)" opacity="0.095"><g fill="#000"><polygon points="0,0 10.7,0 0,12.3"/><polygon points="11.4,0 21.6,0 11.4,11.8"/><polygon points="0,13 10.3,24.6 0,24.6"/><polygon points="11.4,12.5 21.6,12.5 11.4,24.6"/><path fill-rule="evenodd" d="M25,-0.2 L26.2,-1.1 L28.8,-1.1 L29,0.2 H35.1 V11.5 H25 Z M25,2.3 V5.2 H27.4 V2.3 Z M32.4,2.3 V5.2 H35.1 V2.3 Z M25,7.5 V9.3 H26.6 V7.5 Z M28.3,11.5 L30,8.9 L31.7,11.5 Z"/><path fill-rule="evenodd" d="M36.2,0 H44.9 V11.5 H36.2 Z M39.7,2.3 V9.2 H41.4 V2.3 Z"/><path fill-rule="evenodd" d="M25.9,13.2 H44.6 V24.7 H25.9 Z M29.6,16.1 V17.6 H41.1 V16.1 Z M29.6,20.7 V22.3 H41.1 V20.7 Z"/><path fill-rule="evenodd" d="M48.9,-0.3 H68.2 V10.3 H48.9 Z M52.3,2.2 V3.5 H63.9 V2.2 Z M53.2,5.8 V7.4 H63.9 V5.8 Z M54.9,7.7 L51.6,10.3 H58.4 Z"/><rect x="47.5" y="16.6" width="21.2" height="1.9"/><rect x="62.1" y="12.05" width="4.6" height="12.65"/><polygon points="54.9,8.3 47.2,14.7 52.3,14.7 52.3,18.9 50.9,22.4 46.3,27.6 48,27.3 54.9,23 57.8,18.9 57.8,14.4 60.7,14.1"/></g><g fill="#000" stroke="#000" stroke-width="0.2" font-size="6.3px" text-anchor="middle" font-family="Liberation Sans, sans-serif"><text x="1.2" y="34.5">Z</text><text x="10.5" y="34.5">H</text><text x="19.8" y="34.5">I</text><text x="28.1" y="34.5">S</text><text x="37.6" y="34.5">H</text><text x="47.6" y="34.5">E</text><text x="57.1" y="34.5">N</text><text x="67.3" y="34.5">G</text></g></g>
<g transform="translate(15,551.9)" opacity="0.095"><g fill="#000"><polygon points="0,0 10.7,0 0,12.3"/><polygon points="11.4,0 21.6,0 11.4,11.8"/><polygon points="0,13 10.3,24.6 0,24.6"/><polygon points="11.4,12.5 21.6,12.5 11.4,24.6"/><path fill-rule="evenodd" d="M25,-0.2 L26.2,-1.1 L28.8,-1.1 L29,0.2 H35.1 V11.5 H25 Z M25,2.3 V5.2 H27.4 V2.3 Z M32.4,2.3 V5.2 H35.1 V2.3 Z M25,7.5 V9.3 H26.6 V7.5 Z M28.3,11.5 L30,8.9 L31.7,11.5 Z"/><path fill-rule="evenodd" d="M36.2,0 H44.9 V11.5 H36.2 Z M39.7,2.3 V9.2 H41.4 V2.3 Z"/><path fill-rule="evenodd" d="M25.9,13.2 H44.6 V24.7 H25.9 Z M29.6,16.1 V17.6 H41.1 V16.1 Z M29.6,20.7 V22.3 H41.1 V20.7 Z"/><path fill-rule="evenodd" d="M48.9,-0.3 H68.2 V10.3 H48.9 Z M52.3,2.2 V3.5 H63.9 V2.2 Z M53.2,5.8 V7.4 H63.9 V5.8 Z M54.9,7.7 L51.6,10.3 H58.4 Z"/><rect x="47.5" y="16.6" width="21.2" height="1.9"/><rect x="62.1" y="12.05" width="4.6" height="12.65"/><polygon points="54.9,8.3 47.2,14.7 52.3,14.7 52.3,18.9 50.9,22.4 46.3,27.6 48,27.3 54.9,23 57.8,18.9 57.8,14.4 60.7,14.1"/></g><g fill="#000" stroke="#000" stroke-width="0.2" font-size="6.3px" text-anchor="middle" font-family="Liberation Sans, sans-serif"><text x="1.2" y="34.5">Z</text><text x="10.5" y="34.5">H</text><text x="19.8" y="34.5">I</text><text x="28.1" y="34.5">S</text><text x="37.6" y="34.5">H</text><text x="47.6" y="34.5">E</text><text x="57.1" y="34.5">N</text><text x="67.3" y="34.5">G</text></g></g>
<g transform="translate(328.4,551.9)" opacity="0.095"><g fill="#000"><polygon points="0,0 10.7,0 0,12.3"/><polygon points="11.4,0 21.6,0 11.4,11.8"/><polygon points="0,13 10.3,24.6 0,24.6"/><polygon points="11.4,12.5 21.6,12.5 11.4,24.6"/><path fill-rule="evenodd" d="M25,-0.2 L26.2,-1.1 L28.8,-1.1 L29,0.2 H35.1 V11.5 H25 Z M25,2.3 V5.2 H27.4 V2.3 Z M32.4,2.3 V5.2 H35.1 V2.3 Z M25,7.5 V9.3 H26.6 V7.5 Z M28.3,11.5 L30,8.9 L31.7,11.5 Z"/><path fill-rule="evenodd" d="M36.2,0 H44.9 V11.5 H36.2 Z M39.7,2.3 V9.2 H41.4 V2.3 Z"/><path fill-rule="evenodd" d="M25.9,13.2 H44.6 V24.7 H25.9 Z M29.6,16.1 V17.6 H41.1 V16.1 Z M29.6,20.7 V22.3 H41.1 V20.7 Z"/><path fill-rule="evenodd" d="M48.9,-0.3 H68.2 V10.3 H48.9 Z M52.3,2.2 V3.5 H63.9 V2.2 Z M53.2,5.8 V7.4 H63.9 V5.8 Z M54.9,7.7 L51.6,10.3 H58.4 Z"/><rect x="47.5" y="16.6" width="21.2" height="1.9"/><rect x="62.1" y="12.05" width="4.6" height="12.65"/><polygon points="54.9,8.3 47.2,14.7 52.3,14.7 52.3,18.9 50.9,22.4 46.3,27.6 48,27.3 54.9,23 57.8,18.9 57.8,14.4 60.7,14.1"/></g><g fill="#000" stroke="#000" stroke-width="0.2" font-size="6.3px" text-anchor="middle" font-family="Liberation Sans, sans-serif"><text x="1.2" y="34.5">Z</text><text x="10.5" y="34.5">H</text><text x="19.8" y="34.5">I</text><text x="28.1" y="34.5">S</text><text x="37.6" y="34.5">H</text><text x="47.6" y="34.5">E</text><text x="57.1" y="34.5">N</text><text x="67.3" y="34.5">G</text></g></g>
<g transform="translate(633.8,551.9)" opacity="0.095"><g fill="#000"><polygon points="0,0 10.7,0 0,12.3"/><polygon points="11.4,0 21.6,0 11.4,11.8"/><polygon points="0,13 10.3,24.6 0,24.6"/><polygon points="11.4,12.5 21.6,12.5 11.4,24.6"/><path fill-rule="evenodd" d="M25,-0.2 L26.2,-1.1 L28.8,-1.1 L29,0.2 H35.1 V11.5 H25 Z M25,2.3 V5.2 H27.4 V2.3 Z M32.4,2.3 V5.2 H35.1 V2.3 Z M25,7.5 V9.3 H26.6 V7.5 Z M28.3,11.5 L30,8.9 L31.7,11.5 Z"/><path fill-rule="evenodd" d="M36.2,0 H44.9 V11.5 H36.2 Z M39.7,2.3 V9.2 H41.4 V2.3 Z"/><path fill-rule="evenodd" d="M25.9,13.2 H44.6 V24.7 H25.9 Z M29.6,16.1 V17.6 H41.1 V16.1 Z M29.6,20.7 V22.3 H41.1 V20.7 Z"/><path fill-rule="evenodd" d="M48.9,-0.3 H68.2 V10.3 H48.9 Z M52.3,2.2 V3.5 H63.9 V2.2 Z M53.2,5.8 V7.4 H63.9 V5.8 Z M54.9,7.7 L51.6,10.3 H58.4 Z"/><rect x="47.5" y="16.6" width="21.2" height="1.9"/><rect x="62.1" y="12.05" width="4.6" height="12.65"/><polygon points="54.9,8.3 47.2,14.7 52.3,14.7 52.3,18.9 50.9,22.4 46.3,27.6 48,27.3 54.9,23 57.8,18.9 57.8,14.4 60.7,14.1"/></g><g fill="#000" stroke="#000" stroke-width="0.2" font-size="6.3px" text-anchor="middle" font-family="Liberation Sans, sans-serif"><text x="1.2" y="34.5">Z</text><text x="10.5" y="34.5">H</text><text x="19.8" y="34.5">I</text><text x="28.1" y="34.5">S</text><text x="37.6" y="34.5">H</text><text x="47.6" y="34.5">E</text><text x="57.1" y="34.5">N</text><text x="67.3" y="34.5">G</text></g></g>
<g transform="translate(947.5,551.9)" opacity="0.095"><g fill="#000"><polygon points="0,0 10.7,0 0,12.3"/><polygon points="11.4,0 21.6,0 11.4,11.8"/><polygon points="0,13 10.3,24.6 0,24.6"/><polygon points="11.4,12.5 21.6,12.5 11.4,24.6"/><path fill-rule="evenodd" d="M25,-0.2 L26.2,-1.1 L28.8,-1.1 L29,0.2 H35.1 V11.5 H25 Z M25,2.3 V5.2 H27.4 V2.3 Z M32.4,2.3 V5.2 H35.1 V2.3 Z M25,7.5 V9.3 H26.6 V7.5 Z M28.3,11.5 L30,8.9 L31.7,11.5 Z"/><path fill-rule="evenodd" d="M36.2,0 H44.9 V11.5 H36.2 Z M39.7,2.3 V9.2 H41.4 V2.3 Z"/><path fill-rule="evenodd" d="M25.9,13.2 H44.6 V24.7 H25.9 Z M29.6,16.1 V17.6 H41.1 V16.1 Z M29.6,20.7 V22.3 H41.1 V20.7 Z"/><path fill-rule="evenodd" d="M48.9,-0.3 H68.2 V10.3 H48.9 Z M52.3,2.2 V3.5 H63.9 V2.2 Z M53.2,5.8 V7.4 H63.9 V5.8 Z M54.9,7.7 L51.6,10.3 H58.4 Z"/><rect x="47.5" y="16.6" width="21.2" height="1.9"/><rect x="62.1" y="12.05" width="4.6" height="12.65"/><polygon points="54.9,8.3 47.2,14.7 52.3,14.7 52.3,18.9 50.9,22.4 46.3,27.6 48,27.3 54.9,23 57.8,18.9 57.8,14.4 60.7,14.1"/></g><g fill="#000" stroke="#000" stroke-width="0.2" font-size="6.3px" text-anchor="middle" font-family="Liberation Sans, sans-serif"><text x="1.2" y="34.5">Z</text><text x="10.5" y="34.5">H</text><text x="19.8" y="34.5">I</text><text x="28.1" y="34.5">S</text><text x="37.6" y="34.5">H</text><text x="47.6" y="34.5">E</text><text x="57.1" y="34.5">N</text><text x="67.3" y="34.5">G</text></g></g>
<g transform="translate(1252,551.9)" opacity="0.095"><g fill="#000"><polygon points="0,0 10.7,0 0,12.3"/><polygon points="11.4,0 21.6,0 11.4,11.8"/><polygon points="0,13 10.3,24.6 0,24.6"/><polygon points="11.4,12.5 21.6,12.5 11.4,24.6"/><path fill-rule="evenodd" d="M25,-0.2 L26.2,-1.1 L28.8,-1.1 L29,0.2 H35.1 V11.5 H25 Z M25,2.3 V5.2 H27.4 V2.3 Z M32.4,2.3 V5.2 H35.1 V2.3 Z M25,7.5 V9.3 H26.6 V7.5 Z M28.3,11.5 L30,8.9 L31.7,11.5 Z"/><path fill-rule="evenodd" d="M36.2,0 H44.9 V11.5 H36.2 Z M39.7,2.3 V9.2 H41.4 V2.3 Z"/><path fill-rule="evenodd" d="M25.9,13.2 H44.6 V24.7 H25.9 Z M29.6,16.1 V17.6 H41.1 V16.1 Z M29.6,20.7 V22.3 H41.1 V20.7 Z"/><path fill-rule="evenodd" d="M48.9,-0.3 H68.2 V10.3 H48.9 Z M52.3,2.2 V3.5 H63.9 V2.2 Z M53.2,5.8 V7.4 H63.9 V5.8 Z M54.9,7.7 L51.6,10.3 H58.4 Z"/><rect x="47.5" y="16.6" width="21.2" height="1.9"/><rect x="62.1" y="12.05" width="4.6" height="12.65"/><polygon points="54.9,8.3 47.2,14.7 52.3,14.7 52.3,18.9 50.9,22.4 46.3,27.6 48,27.3 54.9,23 57.8,18.9 57.8,14.4 60.7,14.1"/></g><g fill="#000" stroke="#000" stroke-width="0.2" font-size="6.3px" text-anchor="middle" font-family="Liberation Sans, sans-serif"><text x="1.2" y="34.5">Z</text><text x="10.5" y="34.5">H</text><text x="19.8" y="34.5">I</text><text x="28.1" y="34.5">S</text><text x="37.6" y="34.5">H</text><text x="47.6" y="34.5">E</text><text x="57.1" y="34.5">N</text><text x="67.3" y="34.5">G</text></g></g>
<g transform="translate(171.6,-3.1)" opacity="0.095"><g fill="#000"><polygon points="0,0 10.7,0 0,12.3"/><polygon points="11.4,0 21.6,0 11.4,11.8"/><polygon points="0,13 10.3,24.6 0,24.6"/><polygon points="11.4,12.5 21.6,12.5 11.4,24.6"/><path fill-rule="evenodd" d="M25,-0.2 L26.2,-1.1 L28.8,-1.1 L29,0.2 H35.1 V11.5 H25 Z M25,2.3 V5.2 H27.4 V2.3 Z M32.4,2.3 V5.2 H35.1 V2.3 Z M25,7.5 V9.3 H26.6 V7.5 Z M28.3,11.5 L30,8.9 L31.7,11.5 Z"/><path fill-rule="evenodd" d="M36.2,0 H44.9 V11.5 H36.2 Z M39.7,2.3 V9.2 H41.4 V2.3 Z"/><path fill-rule="evenodd" d="M25.9,13.2 H44.6 V24.7 H25.9 Z M29.6,16.1 V17.6 H41.1 V16.1 Z M29.6,20.7 V22.3 H41.1 V20.7 Z"/><path fill-rule="evenodd" d="M48.9,-0.3 H68.2 V10.3 H48.9 Z M52.3,2.2 V3.5 H63.9 V2.2 Z M53.2,5.8 V7.4 H63.9 V5.8 Z M54.9,7.7 L51.6,10.3 H58.4 Z"/><rect x="47.5" y="16.6" width="21.2" height="1.9"/><rect x="62.1" y="12.05" width="4.6" height="12.65"/><polygon points="54.9,8.3 47.2,14.7 52.3,14.7 52.3,18.9 50.9,22.4 46.3,27.6 48,27.3 54.9,23 57.8,18.9 57.8,14.4 60.7,14.1"/></g><g fill="#000" stroke="#000" stroke-width="0.2" font-size="6.3px" text-anchor="middle" font-family="Liberation Sans, sans-serif"><text x="1.2" y="34.5">Z</text><text x="10.5" y="34.5">H</text><text x="19.8" y="34.5">I</text><text x="28.1" y="34.5">S</text><text x="37.6" y="34.5">H</text><text x="47.6" y="34.5">E</text><text x="57.1" y="34.5">N</text><text x="67.3" y="34.5">G</text></g></g>
<g transform="translate(476.8,-3.1)" opacity="0.095"><g fill="#000"><polygon points="0,0 10.7,0 0,12.3"/><polygon points="11.4,0 21.6,0 11.4,11.8"/><polygon points="0,13 10.3,24.6 0,24.6"/><polygon points="11.4,12.5 21.6,12.5 11.4,24.6"/><path fill-rule="evenodd" d="M25,-0.2 L26.2,-1.1 L28.8,-1.1 L29,0.2 H35.1 V11.5 H25 Z M25,2.3 V5.2 H27.4 V2.3 Z M32.4,2.3 V5.2 H35.1 V2.3 Z M25,7.5 V9.3 H26.6 V7.5 Z M28.3,11.5 L30,8.9 L31.7,11.5 Z"/><path fill-rule="evenodd" d="M36.2,0 H44.9 V11.5 H36.2 Z M39.7,2.3 V9.2 H41.4 V2.3 Z"/><path fill-rule="evenodd" d="M25.9,13.2 H44.6 V24.7 H25.9 Z M29.6,16.1 V17.6 H41.1 V16.1 Z M29.6,20.7 V22.3 H41.1 V20.7 Z"/><path fill-rule="evenodd" d="M48.9,-0.3 H68.2 V10.3 H48.9 Z M52.3,2.2 V3.5 H63.9 V2.2 Z M53.2,5.8 V7.4 H63.9 V5.8 Z M54.9,7.7 L51.6,10.3 H58.4 Z"/><rect x="47.5" y="16.6" width="21.2" height="1.9"/><rect x="62.1" y="12.05" width="4.6" height="12.65"/><polygon points="54.9,8.3 47.2,14.7 52.3,14.7 52.3,18.9 50.9,22.4 46.3,27.6 48,27.3 54.9,23 57.8,18.9 57.8,14.4 60.7,14.1"/></g><g fill="#000" stroke="#000" stroke-width="0.2" font-size="6.3px" text-anchor="middle" font-family="Liberation Sans, sans-serif"><text x="1.2" y="34.5">Z</text><text x="10.5" y="34.5">H</text><text x="19.8" y="34.5">I</text><text x="28.1" y="34.5">S</text><text x="37.6" y="34.5">H</text><text x="47.6" y="34.5">E</text><text x="57.1" y="34.5">N</text><text x="67.3" y="34.5">G</text></g></g>
<g transform="translate(790,-3.1)" opacity="0.095"><g fill="#000"><polygon points="0,0 10.7,0 0,12.3"/><polygon points="11.4,0 21.6,0 11.4,11.8"/><polygon points="0,13 10.3,24.6 0,24.6"/><polygon points="11.4,12.5 21.6,12.5 11.4,24.6"/><path fill-rule="evenodd" d="M25,-0.2 L26.2,-1.1 L28.8,-1.1 L29,0.2 H35.1 V11.5 H25 Z M25,2.3 V5.2 H27.4 V2.3 Z M32.4,2.3 V5.2 H35.1 V2.3 Z M25,7.5 V9.3 H26.6 V7.5 Z M28.3,11.5 L30,8.9 L31.7,11.5 Z"/><path fill-rule="evenodd" d="M36.2,0 H44.9 V11.5 H36.2 Z M39.7,2.3 V9.2 H41.4 V2.3 Z"/><path fill-rule="evenodd" d="M25.9,13.2 H44.6 V24.7 H25.9 Z M29.6,16.1 V17.6 H41.1 V16.1 Z M29.6,20.7 V22.3 H41.1 V20.7 Z"/><path fill-rule="evenodd" d="M48.9,-0.3 H68.2 V10.3 H48.9 Z M52.3,2.2 V3.5 H63.9 V2.2 Z M53.2,5.8 V7.4 H63.9 V5.8 Z M54.9,7.7 L51.6,10.3 H58.4 Z"/><rect x="47.5" y="16.6" width="21.2" height="1.9"/><rect x="62.1" y="12.05" width="4.6" height="12.65"/><polygon points="54.9,8.3 47.2,14.7 52.3,14.7 52.3,18.9 50.9,22.4 46.3,27.6 48,27.3 54.9,23 57.8,18.9 57.8,14.4 60.7,14.1"/></g><g fill="#000" stroke="#000" stroke-width="0.2" font-size="6.3px" text-anchor="middle" font-family="Liberation Sans, sans-serif"><text x="1.2" y="34.5">Z</text><text x="10.5" y="34.5">H</text><text x="19.8" y="34.5">I</text><text x="28.1" y="34.5">S</text><text x="37.6" y="34.5">H</text><text x="47.6" y="34.5">E</text><text x="57.1" y="34.5">N</text><text x="67.3" y="34.5">G</text></g></g>
<g transform="translate(1095,-3.1)" opacity="0.095"><g fill="#000"><polygon points="0,0 10.7,0 0,12.3"/><polygon points="11.4,0 21.6,0 11.4,11.8"/><polygon points="0,13 10.3,24.6 0,24.6"/><polygon points="11.4,12.5 21.6,12.5 11.4,24.6"/><path fill-rule="evenodd" d="M25,-0.2 L26.2,-1.1 L28.8,-1.1 L29,0.2 H35.1 V11.5 H25 Z M25,2.3 V5.2 H27.4 V2.3 Z M32.4,2.3 V5.2 H35.1 V2.3 Z M25,7.5 V9.3 H26.6 V7.5 Z M28.3,11.5 L30,8.9 L31.7,11.5 Z"/><path fill-rule="evenodd" d="M36.2,0 H44.9 V11.5 H36.2 Z M39.7,2.3 V9.2 H41.4 V2.3 Z"/><path fill-rule="evenodd" d="M25.9,13.2 H44.6 V24.7 H25.9 Z M29.6,16.1 V17.6 H41.1 V16.1 Z M29.6,20.7 V22.3 H41.1 V20.7 Z"/><path fill-rule="evenodd" d="M48.9,-0.3 H68.2 V10.3 H48.9 Z M52.3,2.2 V3.5 H63.9 V2.2 Z M53.2,5.8 V7.4 H63.9 V5.8 Z M54.9,7.7 L51.6,10.3 H58.4 Z"/><rect x="47.5" y="16.6" width="21.2" height="1.9"/><rect x="62.1" y="12.05" width="4.6" height="12.65"/><polygon points="54.9,8.3 47.2,14.7 52.3,14.7 52.3,18.9 50.9,22.4 46.3,27.6 48,27.3 54.9,23 57.8,18.9 57.8,14.4 60.7,14.1"/></g><g fill="#000" stroke="#000" stroke-width="0.2" font-size="6.3px" text-anchor="middle" font-family="Liberation Sans, sans-serif"><text x="1.2" y="34.5">Z</text><text x="10.5" y="34.5">H</text><text x="19.8" y="34.5">I</text><text x="28.1" y="34.5">S</text><text x="37.6" y="34.5">H</text><text x="47.6" y="34.5">E</text><text x="57.1" y="34.5">N</text><text x="67.3" y="34.5">G</text></g></g>
<g transform="translate(171.6,119.2)" opacity="0.095"><g fill="#000"><polygon points="0,0 10.7,0 0,12.3"/><polygon points="11.4,0 21.6,0 11.4,11.8"/><polygon points="0,13 10.3,24.6 0,24.6"/><polygon points="11.4,12.5 21.6,12.5 11.4,24.6"/><path fill-rule="evenodd" d="M25,-0.2 L26.2,-1.1 L28.8,-1.1 L29,0.2 H35.1 V11.5 H25 Z M25,2.3 V5.2 H27.4 V2.3 Z M32.4,2.3 V5.2 H35.1 V2.3 Z M25,7.5 V9.3 H26.6 V7.5 Z M28.3,11.5 L30,8.9 L31.7,11.5 Z"/><path fill-rule="evenodd" d="M36.2,0 H44.9 V11.5 H36.2 Z M39.7,2.3 V9.2 H41.4 V2.3 Z"/><path fill-rule="evenodd" d="M25.9,13.2 H44.6 V24.7 H25.9 Z M29.6,16.1 V17.6 H41.1 V16.1 Z M29.6,20.7 V22.3 H41.1 V20.7 Z"/><path fill-rule="evenodd" d="M48.9,-0.3 H68.2 V10.3 H48.9 Z M52.3,2.2 V3.5 H63.9 V2.2 Z M53.2,5.8 V7.4 H63.9 V5.8 Z M54.9,7.7 L51.6,10.3 H58.4 Z"/><rect x="47.5" y="16.6" width="21.2" height="1.9"/><rect x="62.1" y="12.05" width="4.6" height="12.65"/><polygon points="54.9,8.3 47.2,14.7 52.3,14.7 52.3,18.9 50.9,22.4 46.3,27.6 48,27.3 54.9,23 57.8,18.9 57.8,14.4 60.7,14.1"/></g><g fill="#000" stroke="#000" stroke-width="0.2" font-size="6.3px" text-anchor="middle" font-family="Liberation Sans, sans-serif"><text x="1.2" y="34.5">Z</text><text x="10.5" y="34.5">H</text><text x="19.8" y="34.5">I</text><text x="28.1" y="34.5">S</text><text x="37.6" y="34.5">H</text><text x="47.6" y="34.5">E</text><text x="57.1" y="34.5">N</text><text x="67.3" y="34.5">G</text></g></g>
<g transform="translate(476.8,119.2)" opacity="0.095"><g fill="#000"><polygon points="0,0 10.7,0 0,12.3"/><polygon points="11.4,0 21.6,0 11.4,11.8"/><polygon points="0,13 10.3,24.6 0,24.6"/><polygon points="11.4,12.5 21.6,12.5 11.4,24.6"/><path fill-rule="evenodd" d="M25,-0.2 L26.2,-1.1 L28.8,-1.1 L29,0.2 H35.1 V11.5 H25 Z M25,2.3 V5.2 H27.4 V2.3 Z M32.4,2.3 V5.2 H35.1 V2.3 Z M25,7.5 V9.3 H26.6 V7.5 Z M28.3,11.5 L30,8.9 L31.7,11.5 Z"/><path fill-rule="evenodd" d="M36.2,0 H44.9 V11.5 H36.2 Z M39.7,2.3 V9.2 H41.4 V2.3 Z"/><path fill-rule="evenodd" d="M25.9,13.2 H44.6 V24.7 H25.9 Z M29.6,16.1 V17.6 H41.1 V16.1 Z M29.6,20.7 V22.3 H41.1 V20.7 Z"/><path fill-rule="evenodd" d="M48.9,-0.3 H68.2 V10.3 H48.9 Z M52.3,2.2 V3.5 H63.9 V2.2 Z M53.2,5.8 V7.4 H63.9 V5.8 Z M54.9,7.7 L51.6,10.3 H58.4 Z"/><rect x="47.5" y="16.6" width="21.2" height="1.9"/><rect x="62.1" y="12.05" width="4.6" height="12.65"/><polygon points="54.9,8.3 47.2,14.7 52.3,14.7 52.3,18.9 50.9,22.4 46.3,27.6 48,27.3 54.9,23 57.8,18.9 57.8,14.4 60.7,14.1"/></g><g fill="#000" stroke="#000" stroke-width="0.2" font-size="6.3px" text-anchor="middle" font-family="Liberation Sans, sans-serif"><text x="1.2" y="34.5">Z</text><text x="10.5" y="34.5">H</text><text x="19.8" y="34.5">I</text><text x="28.1" y="34.5">S</text><text x="37.6" y="34.5">H</text><text x="47.6" y="34.5">E</text><text x="57.1" y="34.5">N</text><text x="67.3" y="34.5">G</text></g></g>
<g transform="translate(790,119.2)" opacity="0.095"><g fill="#000"><polygon points="0,0 10.7,0 0,12.3"/><polygon points="11.4,0 21.6,0 11.4,11.8"/><polygon points="0,13 10.3,24.6 0,24.6"/><polygon points="11.4,12.5 21.6,12.5 11.4,24.6"/><path fill-rule="evenodd" d="M25,-0.2 L26.2,-1.1 L28.8,-1.1 L29,0.2 H35.1 V11.5 H25 Z M25,2.3 V5.2 H27.4 V2.3 Z M32.4,2.3 V5.2 H35.1 V2.3 Z M25,7.5 V9.3 H26.6 V7.5 Z M28.3,11.5 L30,8.9 L31.7,11.5 Z"/><path fill-rule="evenodd" d="M36.2,0 H44.9 V11.5 H36.2 Z M39.7,2.3 V9.2 H41.4 V2.3 Z"/><path fill-rule="evenodd" d="M25.9,13.2 H44.6 V24.7 H25.9 Z M29.6,16.1 V17.6 H41.1 V16.1 Z M29.6,20.7 V22.3 H41.1 V20.7 Z"/><path fill-rule="evenodd" d="M48.9,-0.3 H68.2 V10.3 H48.9 Z M52.3,2.2 V3.5 H63.9 V2.2 Z M53.2,5.8 V7.4 H63.9 V5.8 Z M54.9,7.7 L51.6,10.3 H58.4 Z"/><rect x="47.5" y="16.6" width="21.2" height="1.9"/><rect x="62.1" y="12.05" width="4.6" height="12.65"/><polygon points="54.9,8.3 47.2,14.7 52.3,14.7 52.3,18.9 50.9,22.4 46.3,27.6 48,27.3 54.9,23 57.8,18.9 57.8,14.4 60.7,14.1"/></g><g fill="#000" stroke="#000" stroke-width="0.2" font-size="6.3px" text-anchor="middle" font-family="Liberation Sans, sans-serif"><text x="1.2" y="34.5">Z</text><text x="10.5" y="34.5">H</text><text x="19.8" y="34.5">I</text><text x="28.1" y="34.5">S</text><text x="37.6" y="34.5">H</text><text x="47.6" y="34.5">E</text><text x="57.1" y="34.5">N</text><text x="67.3" y="34.5">G</text></g></g>
<g transform="translate(1095,119.2)" opacity="0.095"><g fill="#000"><polygon points="0,0 10.7,0 0,12.3"/><polygon points="11.4,0 21.6,0 11.4,11.8"/><polygon points="0,13 10.3,24.6 0,24.6"/><polygon points="11.4,12.5 21.6,12.5 11.4,24.6"/><path fill-rule="evenodd" d="M25,-0.2 L26.2,-1.1 L28.8,-1.1 L29,0.2 H35.1 V11.5 H25 Z M25,2.3 V5.2 H27.4 V2.3 Z M32.4,2.3 V5.2 H35.1 V2.3 Z M25,7.5 V9.3 H26.6 V7.5 Z M28.3,11.5 L30,8.9 L31.7,11.5 Z"/><path fill-rule="evenodd" d="M36.2,0 H44.9 V11.5 H36.2 Z M39.7,2.3 V9.2 H41.4 V2.3 Z"/><path fill-rule="evenodd" d="M25.9,13.2 H44.6 V24.7 H25.9 Z M29.6,16.1 V17.6 H41.1 V16.1 Z M29.6,20.7 V22.3 H41.1 V20.7 Z"/><path fill-rule="evenodd" d="M48.9,-0.3 H68.2 V10.3 H48.9 Z M52.3,2.2 V3.5 H63.9 V2.2 Z M53.2,5.8 V7.4 H63.9 V5.8 Z M54.9,7.7 L51.6,10.3 H58.4 Z"/><rect x="47.5" y="16.6" width="21.2" height="1.9"/><rect x="62.1" y="12.05" width="4.6" height="12.65"/><polygon points="54.9,8.3 47.2,14.7 52.3,14.7 52.3,18.9 50.9,22.4 46.3,27.6 48,27.3 54.9,23 57.8,18.9 57.8,14.4 60.7,14.1"/></g><g fill="#000" stroke="#000" stroke-width="0.2" font-size="6.3px" text-anchor="middle" font-family="Liberation Sans, sans-serif"><text x="1.2" y="34.5">Z</text><text x="10.5" y="34.5">H</text><text x="19.8" y="34.5">I</text><text x="28.1" y="34.5">S</text><text x="37.6" y="34.5">H</text><text x="47.6" y="34.5">E</text><text x="57.1" y="34.5">N</text><text x="67.3" y="34.5">G</text></g></g>
<g transform="translate(171.6,241.5)" opacity="0.095"><g fill="#000"><polygon points="0,0 10.7,0 0,12.3"/><polygon points="11.4,0 21.6,0 11.4,11.8"/><polygon points="0,13 10.3,24.6 0,24.6"/><polygon points="11.4,12.5 21.6,12.5 11.4,24.6"/><path fill-rule="evenodd" d="M25,-0.2 L26.2,-1.1 L28.8,-1.1 L29,0.2 H35.1 V11.5 H25 Z M25,2.3 V5.2 H27.4 V2.3 Z M32.4,2.3 V5.2 H35.1 V2.3 Z M25,7.5 V9.3 H26.6 V7.5 Z M28.3,11.5 L30,8.9 L31.7,11.5 Z"/><path fill-rule="evenodd" d="M36.2,0 H44.9 V11.5 H36.2 Z M39.7,2.3 V9.2 H41.4 V2.3 Z"/><path fill-rule="evenodd" d="M25.9,13.2 H44.6 V24.7 H25.9 Z M29.6,16.1 V17.6 H41.1 V16.1 Z M29.6,20.7 V22.3 H41.1 V20.7 Z"/><path fill-rule="evenodd" d="M48.9,-0.3 H68.2 V10.3 H48.9 Z M52.3,2.2 V3.5 H63.9 V2.2 Z M53.2,5.8 V7.4 H63.9 V5.8 Z M54.9,7.7 L51.6,10.3 H58.4 Z"/><rect x="47.5" y="16.6" width="21.2" height="1.9"/><rect x="62.1" y="12.05" width="4.6" height="12.65"/><polygon points="54.9,8.3 47.2,14.7 52.3,14.7 52.3,18.9 50.9,22.4 46.3,27.6 48,27.3 54.9,23 57.8,18.9 57.8,14.4 60.7,14.1"/></g><g fill="#000" stroke="#000" stroke-width="0.2" font-size="6.3px" text-anchor="middle" font-family="Liberation Sans, sans-serif"><text x="1.2" y="34.5">Z</text><text x="10.5" y="34.5">H</text><text x="19.8" y="34.5">I</text><text x="28.1" y="34.5">S</text><text x="37.6" y="34.5">H</text><text x="47.6" y="34.5">E</text><text x="57.1" y="34.5">N</text><text x="67.3" y="34.5">G</text></g></g>
<g transform="translate(476.8,241.5)" opacity="0.095"><g fill="#000"><polygon points="0,0 10.7,0 0,12.3"/><polygon points="11.4,0 21.6,0 11.4,11.8"/><polygon points="0,13 10.3,24.6 0,24.6"/><polygon points="11.4,12.5 21.6,12.5 11.4,24.6"/><path fill-rule="evenodd" d="M25,-0.2 L26.2,-1.1 L28.8,-1.1 L29,0.2 H35.1 V11.5 H25 Z M25,2.3 V5.2 H27.4 V2.3 Z M32.4,2.3 V5.2 H35.1 V2.3 Z M25,7.5 V9.3 H26.6 V7.5 Z M28.3,11.5 L30,8.9 L31.7,11.5 Z"/><path fill-rule="evenodd" d="M36.2,0 H44.9 V11.5 H36.2 Z M39.7,2.3 V9.2 H41.4 V2.3 Z"/><path fill-rule="evenodd" d="M25.9,13.2 H44.6 V24.7 H25.9 Z M29.6,16.1 V17.6 H41.1 V16.1 Z M29.6,20.7 V22.3 H41.1 V20.7 Z"/><path fill-rule="evenodd" d="M48.9,-0.3 H68.2 V10.3 H48.9 Z M52.3,2.2 V3.5 H63.9 V2.2 Z M53.2,5.8 V7.4 H63.9 V5.8 Z M54.9,7.7 L51.6,10.3 H58.4 Z"/><rect x="47.5" y="16.6" width="21.2" height="1.9"/><rect x="62.1" y="12.05" width="4.6" height="12.65"/><polygon points="54.9,8.3 47.2,14.7 52.3,14.7 52.3,18.9 50.9,22.4 46.3,27.6 48,27.3 54.9,23 57.8,18.9 57.8,14.4 60.7,14.1"/></g><g fill="#000" stroke="#000" stroke-width="0.2" font-size="6.3px" text-anchor="middle" font-family="Liberation Sans, sans-serif"><text x="1.2" y="34.5">Z</text><text x="10.5" y="34.5">H</text><text x="19.8" y="34.5">I</text><text x="28.1" y="34.5">S</text><text x="37.6" y="34.5">H</text><text x="47.6" y="34.5">E</text><text x="57.1" y="34.5">N</text><text x="67.3" y="34.5">G</text></g></g>
<g transform="translate(790,241.5)" opacity="0.095"><g fill="#000"><polygon points="0,0 10.7,0 0,12.3"/><polygon points="11.4,0 21.6,0 11.4,11.8"/><polygon points="0,13 10.3,24.6 0,24.6"/><polygon points="11.4,12.5 21.6,12.5 11.4,24.6"/><path fill-rule="evenodd" d="M25,-0.2 L26.2,-1.1 L28.8,-1.1 L29,0.2 H35.1 V11.5 H25 Z M25,2.3 V5.2 H27.4 V2.3 Z M32.4,2.3 V5.2 H35.1 V2.3 Z M25,7.5 V9.3 H26.6 V7.5 Z M28.3,11.5 L30,8.9 L31.7,11.5 Z"/><path fill-rule="evenodd" d="M36.2,0 H44.9 V11.5 H36.2 Z M39.7,2.3 V9.2 H41.4 V2.3 Z"/><path fill-rule="evenodd" d="M25.9,13.2 H44.6 V24.7 H25.9 Z M29.6,16.1 V17.6 H41.1 V16.1 Z M29.6,20.7 V22.3 H41.1 V20.7 Z"/><path fill-rule="evenodd" d="M48.9,-0.3 H68.2 V10.3 H48.9 Z M52.3,2.2 V3.5 H63.9 V2.2 Z M53.2,5.8 V7.4 H63.9 V5.8 Z M54.9,7.7 L51.6,10.3 H58.4 Z"/><rect x="47.5" y="16.6" width="21.2" height="1.9"/><rect x="62.1" y="12.05" width="4.6" height="12.65"/><polygon points="54.9,8.3 47.2,14.7 52.3,14.7 52.3,18.9 50.9,22.4 46.3,27.6 48,27.3 54.9,23 57.8,18.9 57.8,14.4 60.7,14.1"/></g><g fill="#000" stroke="#000" stroke-width="0.2" font-size="6.3px" text-anchor="middle" font-family="Liberation Sans, sans-serif"><text x="1.2" y="34.5">Z</text><text x="10.5" y="34.5">H</text><text x="19.8" y="34.5">I</text><text x="28.1" y="34.5">S</text><text x="37.6" y="34.5">H</text><text x="47.6" y="34.5">E</text><text x="57.1" y="34.5">N</text><text x="67.3" y="34.5">G</text></g></g>
<g transform="translate(1095,241.5)" opacity="0.095"><g fill="#000"><polygon points="0,0 10.7,0 0,12.3"/><polygon points="11.4,0 21.6,0 11.4,11.8"/><polygon points="0,13 10.3,24.6 0,24.6"/><polygon points="11.4,12.5 21.6,12.5 11.4,24.6"/><path fill-rule="evenodd" d="M25,-0.2 L26.2,-1.1 L28.8,-1.1 L29,0.2 H35.1 V11.5 H25 Z M25,2.3 V5.2 H27.4 V2.3 Z M32.4,2.3 V5.2 H35.1 V2.3 Z M25,7.5 V9.3 H26.6 V7.5 Z M28.3,11.5 L30,8.9 L31.7,11.5 Z"/><path fill-rule="evenodd" d="M36.2,0 H44.9 V11.5 H36.2 Z M39.7,2.3 V9.2 H41.4 V2.3 Z"/><path fill-rule="evenodd" d="M25.9,13.2 H44.6 V24.7 H25.9 Z M29.6,16.1 V17.6 H41.1 V16.1 Z M29.6,20.7 V22.3 H41.1 V20.7 Z"/><path fill-rule="evenodd" d="M48.9,-0.3 H68.2 V10.3 H48.9 Z M52.3,2.2 V3.5 H63.9 V2.2 Z M53.2,5.8 V7.4 H63.9 V5.8 Z M54.9,7.7 L51.6,10.3 H58.4 Z"/><rect x="47.5" y="16.6" width="21.2" height="1.9"/><rect x="62.1" y="12.05" width="4.6" height="12.65"/><polygon points="54.9,8.3 47.2,14.7 52.3,14.7 52.3,18.9 50.9,22.4 46.3,27.6 48,27.3 54.9,23 57.8,18.9 57.8,14.4 60.7,14.1"/></g><g fill="#000" stroke="#000" stroke-width="0.2" font-size="6.3px" text-anchor="middle" font-family="Liberation Sans, sans-serif"><text x="1.2" y="34.5">Z</text><text x="10.5" y="34.5">H</text><text x="19.8" y="34.5">I</text><text x="28.1" y="34.5">S</text><text x="37.6" y="34.5">H</text><text x="47.6" y="34.5">E</text><text x="57.1" y="34.5">N</text><text x="67.3" y="34.5">G</text></g></g>
<g transform="translate(171.6,363.8)" opacity="0.095"><g fill="#000"><polygon points="0,0 10.7,0 0,12.3"/><polygon points="11.4,0 21.6,0 11.4,11.8"/><polygon points="0,13 10.3,24.6 0,24.6"/><polygon points="11.4,12.5 21.6,12.5 11.4,24.6"/><path fill-rule="evenodd" d="M25,-0.2 L26.2,-1.1 L28.8,-1.1 L29,0.2 H35.1 V11.5 H25 Z M25,2.3 V5.2 H27.4 V2.3 Z M32.4,2.3 V5.2 H35.1 V2.3 Z M25,7.5 V9.3 H26.6 V7.5 Z M28.3,11.5 L30,8.9 L31.7,11.5 Z"/><path fill-rule="evenodd" d="M36.2,0 H44.9 V11.5 H36.2 Z M39.7,2.3 V9.2 H41.4 V2.3 Z"/><path fill-rule="evenodd" d="M25.9,13.2 H44.6 V24.7 H25.9 Z M29.6,16.1 V17.6 H41.1 V16.1 Z M29.6,20.7 V22.3 H41.1 V20.7 Z"/><path fill-rule="evenodd" d="M48.9,-0.3 H68.2 V10.3 H48.9 Z M52.3,2.2 V3.5 H63.9 V2.2 Z M53.2,5.8 V7.4 H63.9 V5.8 Z M54.9,7.7 L51.6,10.3 H58.4 Z"/><rect x="47.5" y="16.6" width="21.2" height="1.9"/><rect x="62.1" y="12.05" width="4.6" height="12.65"/><polygon points="54.9,8.3 47.2,14.7 52.3,14.7 52.3,18.9 50.9,22.4 46.3,27.6 48,27.3 54.9,23 57.8,18.9 57.8,14.4 60.7,14.1"/></g><g fill="#000" stroke="#000" stroke-width="0.2" font-size="6.3px" text-anchor="middle" font-family="Liberation Sans, sans-serif"><text x="1.2" y="34.5">Z</text><text x="10.5" y="34.5">H</text><text x="19.8" y="34.5">I</text><text x="28.1" y="34.5">S</text><text x="37.6" y="34.5">H</text><text x="47.6" y="34.5">E</text><text x="57.1" y="34.5">N</text><text x="67.3" y="34.5">G</text></g></g>
<g transform="translate(476.8,363.8)" opacity="0.095"><g fill="#000"><polygon points="0,0 10.7,0 0,12.3"/><polygon points="11.4,0 21.6,0 11.4,11.8"/><polygon points="0,13 10.3,24.6 0,24.6"/><polygon points="11.4,12.5 21.6,12.5 11.4,24.6"/><path fill-rule="evenodd" d="M25,-0.2 L26.2,-1.1 L28.8,-1.1 L29,0.2 H35.1 V11.5 H25 Z M25,2.3 V5.2 H27.4 V2.3 Z M32.4,2.3 V5.2 H35.1 V2.3 Z M25,7.5 V9.3 H26.6 V7.5 Z M28.3,11.5 L30,8.9 L31.7,11.5 Z"/><path fill-rule="evenodd" d="M36.2,0 H44.9 V11.5 H36.2 Z M39.7,2.3 V9.2 H41.4 V2.3 Z"/><path fill-rule="evenodd" d="M25.9,13.2 H44.6 V24.7 H25.9 Z M29.6,16.1 V17.6 H41.1 V16.1 Z M29.6,20.7 V22.3 H41.1 V20.7 Z"/><path fill-rule="evenodd" d="M48.9,-0.3 H68.2 V10.3 H48.9 Z M52.3,2.2 V3.5 H63.9 V2.2 Z M53.2,5.8 V7.4 H63.9 V5.8 Z M54.9,7.7 L51.6,10.3 H58.4 Z"/><rect x="47.5" y="16.6" width="21.2" height="1.9"/><rect x="62.1" y="12.05" width="4.6" height="12.65"/><polygon points="54.9,8.3 47.2,14.7 52.3,14.7 52.3,18.9 50.9,22.4 46.3,27.6 48,27.3 54.9,23 57.8,18.9 57.8,14.4 60.7,14.1"/></g><g fill="#000" stroke="#000" stroke-width="0.2" font-size="6.3px" text-anchor="middle" font-family="Liberation Sans, sans-serif"><text x="1.2" y="34.5">Z</text><text x="10.5" y="34.5">H</text><text x="19.8" y="34.5">I</text><text x="28.1" y="34.5">S</text><text x="37.6" y="34.5">H</text><text x="47.6" y="34.5">E</text><text x="57.1" y="34.5">N</text><text x="67.3" y="34.5">G</text></g></g>
<g transform="translate(790,363.8)" opacity="0.095"><g fill="#000"><polygon points="0,0 10.7,0 0,12.3"/><polygon points="11.4,0 21.6,0 11.4,11.8"/><polygon points="0,13 10.3,24.6 0,24.6"/><polygon points="11.4,12.5 21.6,12.5 11.4,24.6"/><path fill-rule="evenodd" d="M25,-0.2 L26.2,-1.1 L28.8,-1.1 L29,0.2 H35.1 V11.5 H25 Z M25,2.3 V5.2 H27.4 V2.3 Z M32.4,2.3 V5.2 H35.1 V2.3 Z M25,7.5 V9.3 H26.6 V7.5 Z M28.3,11.5 L30,8.9 L31.7,11.5 Z"/><path fill-rule="evenodd" d="M36.2,0 H44.9 V11.5 H36.2 Z M39.7,2.3 V9.2 H41.4 V2.3 Z"/><path fill-rule="evenodd" d="M25.9,13.2 H44.6 V24.7 H25.9 Z M29.6,16.1 V17.6 H41.1 V16.1 Z M29.6,20.7 V22.3 H41.1 V20.7 Z"/><path fill-rule="evenodd" d="M48.9,-0.3 H68.2 V10.3 H48.9 Z M52.3,2.2 V3.5 H63.9 V2.2 Z M53.2,5.8 V7.4 H63.9 V5.8 Z M54.9,7.7 L51.6,10.3 H58.4 Z"/><rect x="47.5" y="16.6" width="21.2" height="1.9"/><rect x="62.1" y="12.05" width="4.6" height="12.65"/><polygon points="54.9,8.3 47.2,14.7 52.3,14.7 52.3,18.9 50.9,22.4 46.3,27.6 48,27.3 54.9,23 57.8,18.9 57.8,14.4 60.7,14.1"/></g><g fill="#000" stroke="#000" stroke-width="0.2" font-size="6.3px" text-anchor="middle" font-family="Liberation Sans, sans-serif"><text x="1.2" y="34.5">Z</text><text x="10.5" y="34.5">H</text><text x="19.8" y="34.5">I</text><text x="28.1" y="34.5">S</text><text x="37.6" y="34.5">H</text><text x="47.6" y="34.5">E</text><text x="57.1" y="34.5">N</text><text x="67.3" y="34.5">G</text></g></g>
<g transform="translate(1095,363.8)" opacity="0.095"><g fill="#000"><polygon points="0,0 10.7,0 0,12.3"/><polygon points="11.4,0 21.6,0 11.4,11.8"/><polygon points="0,13 10.3,24.6 0,24.6"/><polygon points="11.4,12.5 21.6,12.5 11.4,24.6"/><path fill-rule="evenodd" d="M25,-0.2 L26.2,-1.1 L28.8,-1.1 L29,0.2 H35.1 V11.5 H25 Z M25,2.3 V5.2 H27.4 V2.3 Z M32.4,2.3 V5.2 H35.1 V2.3 Z M25,7.5 V9.3 H26.6 V7.5 Z M28.3,11.5 L30,8.9 L31.7,11.5 Z"/><path fill-rule="evenodd" d="M36.2,0 H44.9 V11.5 H36.2 Z M39.7,2.3 V9.2 H41.4 V2.3 Z"/><path fill-rule="evenodd" d="M25.9,13.2 H44.6 V24.7 H25.9 Z M29.6,16.1 V17.6 H41.1 V16.1 Z M29.6,20.7 V22.3 H41.1 V20.7 Z"/><path fill-rule="evenodd" d="M48.9,-0.3 H68.2 V10.3 H48.9 Z M52.3,2.2 V3.5 H63.9 V2.2 Z M53.2,5.8 V7.4 H63.9 V5.8 Z M54.9,7.7 L51.6,10.3 H58.4 Z"/><rect x="47.5" y="16.6" width="21.2" height="1.9"/><rect x="62.1" y="12.05" width="4.6" height="12.65"/><polygon points="54.9,8.3 47.2,14.7 52.3,14.7 52.3,18.9 50.9,22.4 46.3,27.6 48,27.3 54.9,23 57.8,18.9 57.8,14.4 60.7,14.1"/></g><g fill="#000" stroke="#000" stroke-width="0.2" font-size="6.3px" text-anchor="middle" font-family="Liberation Sans, sans-serif"><text x="1.2" y="34.5">Z</text><text x="10.5" y="34.5">H</text><text x="19.8" y="34.5">I</text><text x="28.1" y="34.5">S</text><text x="37.6" y="34.5">H</text><text x="47.6" y="34.5">E</text><text x="57.1" y="34.5">N</text><text x="67.3" y="34.5">G</text></g></g>
<g transform="translate(171.6,486.1)" opacity="0.095"><g fill="#000"><polygon points="0,0 10.7,0 0,12.3"/><polygon points="11.4,0 21.6,0 11.4,11.8"/><polygon points="0,13 10.3,24.6 0,24.6"/><polygon points="11.4,12.5 21.6,12.5 11.4,24.6"/><path fill-rule="evenodd" d="M25,-0.2 L26.2,-1.1 L28.8,-1.1 L29,0.2 H35.1 V11.5 H25 Z M25,2.3 V5.2 H27.4 V2.3 Z M32.4,2.3 V5.2 H35.1 V2.3 Z M25,7.5 V9.3 H26.6 V7.5 Z M28.3,11.5 L30,8.9 L31.7,11.5 Z"/><path fill-rule="evenodd" d="M36.2,0 H44.9 V11.5 H36.2 Z M39.7,2.3 V9.2 H41.4 V2.3 Z"/><path fill-rule="evenodd" d="M25.9,13.2 H44.6 V24.7 H25.9 Z M29.6,16.1 V17.6 H41.1 V16.1 Z M29.6,20.7 V22.3 H41.1 V20.7 Z"/><path fill-rule="evenodd" d="M48.9,-0.3 H68.2 V10.3 H48.9 Z M52.3,2.2 V3.5 H63.9 V2.2 Z M53.2,5.8 V7.4 H63.9 V5.8 Z M54.9,7.7 L51.6,10.3 H58.4 Z"/><rect x="47.5" y="16.6" width="21.2" height="1.9"/><rect x="62.1" y="12.05" width="4.6" height="12.65"/><polygon points="54.9,8.3 47.2,14.7 52.3,14.7 52.3,18.9 50.9,22.4 46.3,27.6 48,27.3 54.9,23 57.8,18.9 57.8,14.4 60.7,14.1"/></g><g fill="#000" stroke="#000" stroke-width="0.2" font-size="6.3px" text-anchor="middle" font-family="Liberation Sans, sans-serif"><text x="1.2" y="34.5">Z</text><text x="10.5" y="34.5">H</text><text x="19.8" y="34.5">I</text><text x="28.1" y="34.5">S</text><text x="37.6" y="34.5">H</text><text x="47.6" y="34.5">E</text><text x="57.1" y="34.5">N</text><text x="67.3" y="34.5">G</text></g></g>
<g transform="translate(476.8,486.1)" opacity="0.095"><g fill="#000"><polygon points="0,0 10.7,0 0,12.3"/><polygon points="11.4,0 21.6,0 11.4,11.8"/><polygon points="0,13 10.3,24.6 0,24.6"/><polygon points="11.4,12.5 21.6,12.5 11.4,24.6"/><path fill-rule="evenodd" d="M25,-0.2 L26.2,-1.1 L28.8,-1.1 L29,0.2 H35.1 V11.5 H25 Z M25,2.3 V5.2 H27.4 V2.3 Z M32.4,2.3 V5.2 H35.1 V2.3 Z M25,7.5 V9.3 H26.6 V7.5 Z M28.3,11.5 L30,8.9 L31.7,11.5 Z"/><path fill-rule="evenodd" d="M36.2,0 H44.9 V11.5 H36.2 Z M39.7,2.3 V9.2 H41.4 V2.3 Z"/><path fill-rule="evenodd" d="M25.9,13.2 H44.6 V24.7 H25.9 Z M29.6,16.1 V17.6 H41.1 V16.1 Z M29.6,20.7 V22.3 H41.1 V20.7 Z"/><path fill-rule="evenodd" d="M48.9,-0.3 H68.2 V10.3 H48.9 Z M52.3,2.2 V3.5 H63.9 V2.2 Z M53.2,5.8 V7.4 H63.9 V5.8 Z M54.9,7.7 L51.6,10.3 H58.4 Z"/><rect x="47.5" y="16.6" width="21.2" height="1.9"/><rect x="62.1" y="12.05" width="4.6" height="12.65"/><polygon points="54.9,8.3 47.2,14.7 52.3,14.7 52.3,18.9 50.9,22.4 46.3,27.6 48,27.3 54.9,23 57.8,18.9 57.8,14.4 60.7,14.1"/></g><g fill="#000" stroke="#000" stroke-width="0.2" font-size="6.3px" text-anchor="middle" font-family="Liberation Sans, sans-serif"><text x="1.2" y="34.5">Z</text><text x="10.5" y="34.5">H</text><text x="19.8" y="34.5">I</text><text x="28.1" y="34.5">S</text><text x="37.6" y="34.5">H</text><text x="47.6" y="34.5">E</text><text x="57.1" y="34.5">N</text><text x="67.3" y="34.5">G</text></g></g>
<g transform="translate(790,486.1)" opacity="0.095"><g fill="#000"><polygon points="0,0 10.7,0 0,12.3"/><polygon points="11.4,0 21.6,0 11.4,11.8"/><polygon points="0,13 10.3,24.6 0,24.6"/><polygon points="11.4,12.5 21.6,12.5 11.4,24.6"/><path fill-rule="evenodd" d="M25,-0.2 L26.2,-1.1 L28.8,-1.1 L29,0.2 H35.1 V11.5 H25 Z M25,2.3 V5.2 H27.4 V2.3 Z M32.4,2.3 V5.2 H35.1 V2.3 Z M25,7.5 V9.3 H26.6 V7.5 Z M28.3,11.5 L30,8.9 L31.7,11.5 Z"/><path fill-rule="evenodd" d="M36.2,0 H44.9 V11.5 H36.2 Z M39.7,2.3 V9.2 H41.4 V2.3 Z"/><path fill-rule="evenodd" d="M25.9,13.2 H44.6 V24.7 H25.9 Z M29.6,16.1 V17.6 H41.1 V16.1 Z M29.6,20.7 V22.3 H41.1 V20.7 Z"/><path fill-rule="evenodd" d="M48.9,-0.3 H68.2 V10.3 H48.9 Z M52.3,2.2 V3.5 H63.9 V2.2 Z M53.2,5.8 V7.4 H63.9 V5.8 Z M54.9,7.7 L51.6,10.3 H58.4 Z"/><rect x="47.5" y="16.6" width="21.2" height="1.9"/><rect x="62.1" y="12.05" width="4.6" height="12.65"/><polygon points="54.9,8.3 47.2,14.7 52.3,14.7 52.3,18.9 50.9,22.4 46.3,27.6 48,27.3 54.9,23 57.8,18.9 57.8,14.4 60.7,14.1"/></g><g fill="#000" stroke="#000" stroke-width="0.2" font-size="6.3px" text-anchor="middle" font-family="Liberation Sans, sans-serif"><text x="1.2" y="34.5">Z</text><text x="10.5" y="34.5">H</text><text x="19.8" y="34.5">I</text><text x="28.1" y="34.5">S</text><text x="37.6" y="34.5">H</text><text x="47.6" y="34.5">E</text><text x="57.1" y="34.5">N</text><text x="67.3" y="34.5">G</text></g></g>
<g transform="translate(1095,486.1)" opacity="0.095"><g fill="#000"><polygon points="0,0 10.7,0 0,12.3"/><polygon points="11.4,0 21.6,0 11.4,11.8"/><polygon points="0,13 10.3,24.6 0,24.6"/><polygon points="11.4,12.5 21.6,12.5 11.4,24.6"/><path fill-rule="evenodd" d="M25,-0.2 L26.2,-1.1 L28.8,-1.1 L29,0.2 H35.1 V11.5 H25 Z M25,2.3 V5.2 H27.4 V2.3 Z M32.4,2.3 V5.2 H35.1 V2.3 Z M25,7.5 V9.3 H26.6 V7.5 Z M28.3,11.5 L30,8.9 L31.7,11.5 Z"/><path fill-rule="evenodd" d="M36.2,0 H44.9 V11.5 H36.2 Z M39.7,2.3 V9.2 H41.4 V2.3 Z"/><path fill-rule="evenodd" d="M25.9,13.2 H44.6 V24.7 H25.9 Z M29.6,16.1 V17.6 H41.1 V16.1 Z M29.6,20.7 V22.3 H41.1 V20.7 Z"/><path fill-rule="evenodd" d="M48.9,-0.3 H68.2 V10.3 H48.9 Z M52.3,2.2 V3.5 H63.9 V2.2 Z M53.2,5.8 V7.4 H63.9 V5.8 Z M54.9,7.7 L51.6,10.3 H58.4 Z"/><rect x="47.5" y="16.6" width="21.2" height="1.9"/><rect x="62.1" y="12.05" width="4.6" height="12.65"/><polygon points="54.9,8.3 47.2,14.7 52.3,14.7 52.3,18.9 50.9,22.4 46.3,27.6 48,27.3 54.9,23 57.8,18.9 57.8,14.4 60.7,14.1"/></g><g fill="#000" stroke="#000" stroke-width="0.2" font-size="6.3px" text-anchor="middle" font-family="Liberation Sans, sans-serif"><text x="1.2" y="34.5">Z</text><text x="10.5" y="34.5">H</text><text x="19.8" y="34.5">I</text><text x="28.1" y="34.5">S</text><text x="37.6" y="34.5">H</text><text x="47.6" y="34.5">E</text><text x="57.1" y="34.5">N</text><text x="67.3" y="34.5">G</text></g></g>
<g transform="translate(171.6,608.4)" opacity="0.095"><g fill="#000"><polygon points="0,0 10.7,0 0,12.3"/><polygon points="11.4,0 21.6,0 11.4,11.8"/><polygon points="0,13 10.3,24.6 0,24.6"/><polygon points="11.4,12.5 21.6,12.5 11.4,24.6"/><path fill-rule="evenodd" d="M25,-0.2 L26.2,-1.1 L28.8,-1.1 L29,0.2 H35.1 V11.5 H25 Z M25,2.3 V5.2 H27.4 V2.3 Z M32.4,2.3 V5.2 H35.1 V2.3 Z M25,7.5 V9.3 H26.6 V7.5 Z M28.3,11.5 L30,8.9 L31.7,11.5 Z"/><path fill-rule="evenodd" d="M36.2,0 H44.9 V11.5 H36.2 Z M39.7,2.3 V9.2 H41.4 V2.3 Z"/><path fill-rule="evenodd" d="M25.9,13.2 H44.6 V24.7 H25.9 Z M29.6,16.1 V17.6 H41.1 V16.1 Z M29.6,20.7 V22.3 H41.1 V20.7 Z"/><path fill-rule="evenodd" d="M48.9,-0.3 H68.2 V10.3 H48.9 Z M52.3,2.2 V3.5 H63.9 V2.2 Z M53.2,5.8 V7.4 H63.9 V5.8 Z M54.9,7.7 L51.6,10.3 H58.4 Z"/><rect x="47.5" y="16.6" width="21.2" height="1.9"/><rect x="62.1" y="12.05" width="4.6" height="12.65"/><polygon points="54.9,8.3 47.2,14.7 52.3,14.7 52.3,18.9 50.9,22.4 46.3,27.6 48,27.3 54.9,23 57.8,18.9 57.8,14.4 60.7,14.1"/></g><g fill="#000" stroke="#000" stroke-width="0.2" font-size="6.3px" text-anchor="middle" font-family="Liberation Sans, sans-serif"><text x="1.2" y="34.5">Z</text><text x="10.5" y="34.5">H</text><text x="19.8" y="34.5">I</text><text x="28.1" y="34.5">S</text><text x="37.6" y="34.5">H</text><text x="47.6" y="34.5">E</text><text x="57.1" y="34.5">N</text><text x="67.3" y="34.5">G</text></g></g>
<g transform="translate(476.8,608.4)" opacity="0.095"><g fill="#000"><polygon points="0,0 10.7,0 0,12.3"/><polygon points="11.4,0 21.6,0 11.4,11.8"/><polygon points="0,13 10.3,24.6 0,24.6"/><polygon points="11.4,12.5 21.6,12.5 11.4,24.6"/><path fill-rule="evenodd" d="M25,-0.2 L26.2,-1.1 L28.8,-1.1 L29,0.2 H35.1 V11.5 H25 Z M25,2.3 V5.2 H27.4 V2.3 Z M32.4,2.3 V5.2 H35.1 V2.3 Z M25,7.5 V9.3 H26.6 V7.5 Z M28.3,11.5 L30,8.9 L31.7,11.5 Z"/><path fill-rule="evenodd" d="M36.2,0 H44.9 V11.5 H36.2 Z M39.7,2.3 V9.2 H41.4 V2.3 Z"/><path fill-rule="evenodd" d="M25.9,13.2 H44.6 V24.7 H25.9 Z M29.6,16.1 V17.6 H41.1 V16.1 Z M29.6,20.7 V22.3 H41.1 V20.7 Z"/><path fill-rule="evenodd" d="M48.9,-0.3 H68.2 V10.3 H48.9 Z M52.3,2.2 V3.5 H63.9 V2.2 Z M53.2,5.8 V7.4 H63.9 V5.8 Z M54.9,7.7 L51.6,10.3 H58.4 Z"/><rect x="47.5" y="16.6" width="21.2" height="1.9"/><rect x="62.1" y="12.05" width="4.6" height="12.65"/><polygon points="54.9,8.3 47.2,14.7 52.3,14.7 52.3,18.9 50.9,22.4 46.3,27.6 48,27.3 54.9,23 57.8,18.9 57.8,14.4 60.7,14.1"/></g><g fill="#000" stroke="#000" stroke-width="0.2" font-size="6.3px" text-anchor="middle" font-family="Liberation Sans, sans-serif"><text x="1.2" y="34.5">Z</text><text x="10.5" y="34.5">H</text><text x="19.8" y="34.5">I</text><text x="28.1" y="34.5">S</text><text x="37.6" y="34.5">H</text><text x="47.6" y="34.5">E</text><text x="57.1" y="34.5">N</text><text x="67.3" y="34.5">G</text></g></g>
<g transform="translate(790,608.4)" opacity="0.095"><g fill="#000"><polygon points="0,0 10.7,0 0,12.3"/><polygon points="11.4,0 21.6,0 11.4,11.8"/><polygon points="0,13 10.3,24.6 0,24.6"/><polygon points="11.4,12.5 21.6,12.5 11.4,24.6"/><path fill-rule="evenodd" d="M25,-0.2 L26.2,-1.1 L28.8,-1.1 L29,0.2 H35.1 V11.5 H25 Z M25,2.3 V5.2 H27.4 V2.3 Z M32.4,2.3 V5.2 H35.1 V2.3 Z M25,7.5 V9.3 H26.6 V7.5 Z M28.3,11.5 L30,8.9 L31.7,11.5 Z"/><path fill-rule="evenodd" d="M36.2,0 H44.9 V11.5 H36.2 Z M39.7,2.3 V9.2 H41.4 V2.3 Z"/><path fill-rule="evenodd" d="M25.9,13.2 H44.6 V24.7 H25.9 Z M29.6,16.1 V17.6 H41.1 V16.1 Z M29.6,20.7 V22.3 H41.1 V20.7 Z"/><path fill-rule="evenodd" d="M48.9,-0.3 H68.2 V10.3 H48.9 Z M52.3,2.2 V3.5 H63.9 V2.2 Z M53.2,5.8 V7.4 H63.9 V5.8 Z M54.9,7.7 L51.6,10.3 H58.4 Z"/><rect x="47.5" y="16.6" width="21.2" height="1.9"/><rect x="62.1" y="12.05" width="4.6" height="12.65"/><polygon points="54.9,8.3 47.2,14.7 52.3,14.7 52.3,18.9 50.9,22.4 46.3,27.6 48,27.3 54.9,23 57.8,18.9 57.8,14.4 60.7,14.1"/></g><g fill="#000" stroke="#000" stroke-width="0.2" font-size="6.3px" text-anchor="middle" font-family="Liberation Sans, sans-serif"><text x="1.2" y="34.5">Z</text><text x="10.5" y="34.5">H</text><text x="19.8" y="34.5">I</text><text x="28.1" y="34.5">S</text><text x="37.6" y="34.5">H</text><text x="47.6" y="34.5">E</text><text x="57.1" y="34.5">N</text><text x="67.3" y="34.5">G</text></g></g>
<g transform="translate(1095,608.4)" opacity="0.095"><g fill="#000"><polygon points="0,0 10.7,0 0,12.3"/><polygon points="11.4,0 21.6,0 11.4,11.8"/><polygon points="0,13 10.3,24.6 0,24.6"/><polygon points="11.4,12.5 21.6,12.5 11.4,24.6"/><path fill-rule="evenodd" d="M25,-0.2 L26.2,-1.1 L28.8,-1.1 L29,0.2 H35.1 V11.5 H25 Z M25,2.3 V5.2 H27.4 V2.3 Z M32.4,2.3 V5.2 H35.1 V2.3 Z M25,7.5 V9.3 H26.6 V7.5 Z M28.3,11.5 L30,8.9 L31.7,11.5 Z"/><path fill-rule="evenodd" d="M36.2,0 H44.9 V11.5 H36.2 Z M39.7,2.3 V9.2 H41.4 V2.3 Z"/><path fill-rule="evenodd" d="M25.9,13.2 H44.6 V24.7 H25.9 Z M29.6,16.1 V17.6 H41.1 V16.1 Z M29.6,20.7 V22.3 H41.1 V20.7 Z"/><path fill-rule="evenodd" d="M48.9,-0.3 H68.2 V10.3 H48.9 Z M52.3,2.2 V3.5 H63.9 V2.2 Z M53.2,5.8 V7.4 H63.9 V5.8 Z M54.9,7.7 L51.6,10.3 H58.4 Z"/><rect x="47.5" y="16.6" width="21.2" height="1.9"/><rect x="62.1" y="12.05" width="4.6" height="12.65"/><polygon points="54.9,8.3 47.2,14.7 52.3,14.7 52.3,18.9 50.9,22.4 46.3,27.6 48,27.3 54.9,23 57.8,18.9 57.8,14.4 60.7,14.1"/></g><g fill="#000" stroke="#000" stroke-width="0.2" font-size="6.3px" text-anchor="middle" font-family="Liberation Sans, sans-serif"><text x="1.2" y="34.5">Z</text><text x="10.5" y="34.5">H</text><text x="19.8" y="34.5">I</text><text x="28.1" y="34.5">S</text><text x="37.6" y="34.5">H</text><text x="47.6" y="34.5">E</text><text x="57.1" y="34.5">N</text><text x="67.3" y="34.5">G</text></g></g>
</g>
</svg>
</body></html>
